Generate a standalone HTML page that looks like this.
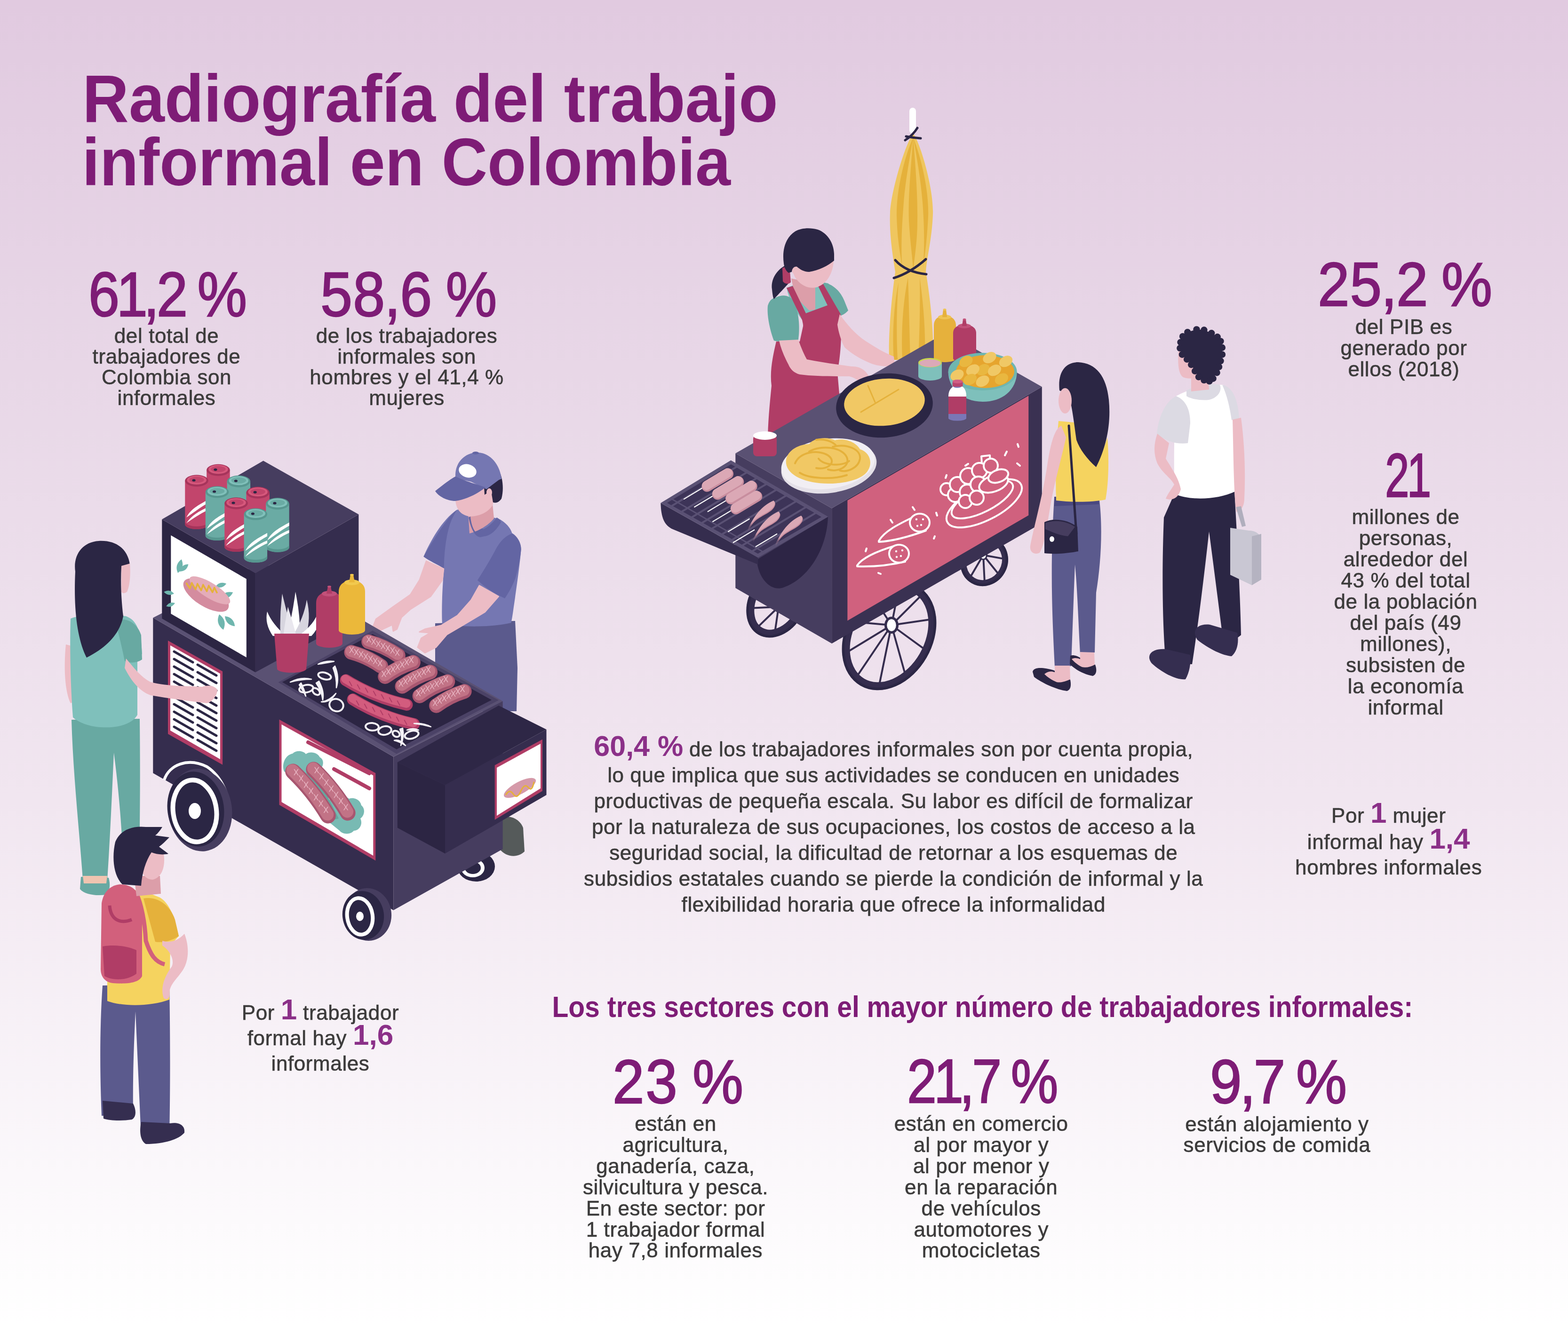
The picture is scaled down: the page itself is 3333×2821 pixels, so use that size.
<!DOCTYPE html>
<html lang="es"><head><meta charset="utf-8"><title>Radiografía del trabajo informal en Colombia</title>
<style>
html,body{margin:0;padding:0;}
body{width:3333px;height:2821px;position:relative;overflow:hidden;
background:linear-gradient(180deg,#e1cae0 0px,#e9d9e8 900px,#f1e6f0 1700px,#fbf8fb 2500px,#ffffff 2821px);
font-family:"Liberation Sans",Arial,sans-serif;}
.t{position:absolute;white-space:pre;}
.n{-webkit-text-stroke:2.4px currentColor;}
.b{letter-spacing:0.6px;-webkit-text-stroke:0.6px currentColor;}
svg.ill{position:absolute;left:0;top:0;}
</style></head><body>
<svg class="ill" width="3333" height="2821" viewBox="0 0 3333 2821" xmlns="http://www.w3.org/2000/svg"><rect x="1933" y="229" width="14" height="55" rx="7" fill="#ffffff"/><path d="M1941,284 C1955,300 1985,400 1983,455 C1981,510 1970,545 1968,578 C1975,620 1986,700 1983,765 L1890,765 C1888,700 1897,620 1903,578 C1898,545 1890,500 1892,452 C1895,400 1927,300 1941,284 Z" fill="#efc65f" /><path d="M1941,292 C1936,360 1930,420 1932,470 C1935,520 1940,550 1941,575 C1945,540 1950,510 1950,470 C1951,420 1946,350 1941,292 Z" fill="#e5b13b" /><path d="M1941,292 C1920,340 1905,410 1906,460 C1908,520 1915,545 1918,572 C1914,520 1918,470 1921,430 C1925,380 1935,330 1941,292 Z" fill="#e5b13b" /><path d="M1941,292 C1960,340 1975,410 1973,460 C1970,520 1965,545 1962,572 C1966,520 1964,470 1961,430 C1957,380 1948,330 1941,292 Z" fill="#e5b13b" /><path d="M1930,590 C1920,640 1915,700 1918,765 L1935,765 C1933,700 1932,640 1930,590 Z" fill="#e5b13b" /><path d="M1955,590 C1962,640 1968,700 1966,765 L1952,765 C1955,700 1956,640 1955,590 Z" fill="#e5b13b" /><path d="M1910,600 C1900,650 1896,710 1900,765 L1908,765 C1905,710 1906,650 1910,600 Z" fill="#e5b13b" /><path d="M1926,290 Q1942,293 1957,294" fill="none" stroke="#2b2644" stroke-width="5" stroke-linecap="round"/><path d="M1924,298 Q1940,288 1950,272" fill="none" stroke="#2b2644" stroke-width="5" stroke-linecap="round"/><path d="M1903,553 Q1925,578 1969,583" fill="none" stroke="#2b2644" stroke-width="5" stroke-linecap="round"/><path d="M1900,591 Q1935,580 1968,551" fill="none" stroke="#2b2644" stroke-width="5" stroke-linecap="round"/><path d="M1640,820 C1636,790 1642,760 1650,726 L1700,726 L1713,666 L1759,649 L1787,668 C1790,720 1786,760 1780,790 C1784,840 1790,900 1795,940 L1632,940 C1632,900 1636,860 1640,820 Z" fill="#b03d66" /><path d="M1672,612 C1690,603 1720,600 1745,600 L1760,602 C1775,615 1785,640 1790,668 L1705,680 C1690,660 1678,640 1672,612 Z" fill="#7fc0bb" /><path d="M1650,632 C1665,625 1678,628 1688,640 C1700,670 1700,700 1697,722 C1680,728 1660,728 1645,724 C1636,700 1630,670 1632,650 C1635,640 1640,634 1650,632 Z" fill="#68a9a2" /><path d="M1743,600 C1765,600 1785,615 1795,640 L1803,660 C1796,668 1788,672 1780,672 C1772,650 1758,620 1743,600 Z" fill="#68a9a2" /><polygon points="1682.0,592.0 1722.0,600.0 1733.0,612.0 1733.0,658.0 1720.0,660.0 1690.0,630.0" fill="#dc9ea9" /><path d="M1672,612 L1685,608 L1713,666 L1759,649 L1738,606 L1750,604 L1787,668 C1790,700 1787,740 1781,775 L1712,770 C1710,730 1710,700 1705,680 Z" fill="#b03d66" /><path d="M1785,668 C1800,690 1820,712 1840,725 C1860,738 1880,750 1900,758 L1902,776 C1890,780 1870,780 1850,772 C1830,764 1810,752 1795,738 C1788,725 1782,705 1780,690 Z" fill="#ecbcc5" /><path d="M1656,724 L1697,722 C1703,740 1710,755 1715,764 C1745,770 1780,775 1810,779 C1830,778 1845,790 1850,808 C1848,818 1840,822 1832,818 C1825,808 1815,802 1805,800 C1770,800 1730,800 1700,796 C1688,793 1680,785 1676,775 C1668,760 1660,742 1656,724 Z" fill="#ecbcc5" /><path d="M1668,565 C1650,575 1638,595 1641,615 C1642,625 1643,632 1645,636 C1655,625 1668,612 1680,598 Z" fill="#2b2644" /><path d="M1663,570 C1668,566 1676,568 1679,575 L1681,600 C1676,605 1668,604 1664,598 Z" fill="#b03d66" /><path d="M1684,566 C1690,560 1700,560 1710,565 L1772,555 C1770,585 1755,605 1735,611 C1720,614 1705,608 1695,596 C1688,588 1684,578 1684,566 Z" fill="#ecbcc5" /><ellipse cx="1689" cy="574" rx="6" ry="8" fill="#ecbcc5" /><path d="M1666,560 C1662,530 1670,505 1690,492 C1705,484 1722,484 1738,488 C1758,495 1772,515 1773,540 L1773,554 C1760,565 1740,575 1720,578 C1708,578 1700,572 1694,567 C1688,566 1684,570 1683,578 L1676,580 C1670,575 1667,568 1666,560 Z" fill="#2b2644" /><line x1="1655" y1="1290" x2="1695.8980935600252" y2="1224.4292126705154" stroke="#352d4e" stroke-width="4" stroke-linecap="round" /><line x1="1655" y1="1290" x2="1708.927000735486" y2="1267.2492342887836" stroke="#352d4e" stroke-width="4" stroke-linecap="round" /><line x1="1655" y1="1290" x2="1688.6088429453223" y2="1317.5384815300404" stroke="#352d4e" stroke-width="4" stroke-linecap="round" /><line x1="1655" y1="1290" x2="1646.8457214605753" y2="1345.8381954018917" stroke="#352d4e" stroke-width="4" stroke-linecap="round" /><line x1="1655" y1="1290" x2="1608.1019064399748" y2="1335.5707873294846" stroke="#352d4e" stroke-width="4" stroke-linecap="round" /><line x1="1655" y1="1290" x2="1595.072999264514" y2="1292.7507657112164" stroke="#352d4e" stroke-width="4" stroke-linecap="round" /><line x1="1655" y1="1290" x2="1615.3911570546777" y2="1242.4615184699596" stroke="#352d4e" stroke-width="4" stroke-linecap="round" /><line x1="1655" y1="1290" x2="1657.1542785394247" y2="1214.1618045981083" stroke="#352d4e" stroke-width="4" stroke-linecap="round" /><ellipse cx="1652" cy="1280" rx="71.5" ry="51.5" fill="none" transform="rotate(-60 1652 1280)" stroke="#352d4e" stroke-width="17"/><ellipse cx="1652" cy="1280" rx="77.0" ry="57.0" fill="none" transform="rotate(-60 1652 1280)" stroke="#2b2644" stroke-width="5"/><ellipse cx="1655" cy="1290" rx="10" ry="12.0" fill="#352d4e" /><ellipse cx="1655" cy="1290" rx="6.5" ry="8.5" fill="#ffffff" /><line x1="2090" y1="1180" x2="2122.760873126559" y2="1157.0048366387894" stroke="#352d4e" stroke-width="4" stroke-linecap="round" /><line x1="2090" y1="1180" x2="2136.522022193934" y2="1188.399412921956" stroke="#352d4e" stroke-width="4" stroke-linecap="round" /><line x1="2090" y1="1180" x2="2124.202774484378" y2="1222.4889507205626" stroke="#352d4e" stroke-width="4" stroke-linecap="round" /><line x1="2090" y1="1180" x2="2093.0195782279156" y2="1239.304261127215" stroke="#352d4e" stroke-width="4" stroke-linecap="round" /><line x1="2090" y1="1180" x2="2061.239126873441" y2="1228.9951633612106" stroke="#352d4e" stroke-width="4" stroke-linecap="round" /><line x1="2090" y1="1180" x2="2047.477977806066" y2="1197.600587078044" stroke="#352d4e" stroke-width="4" stroke-linecap="round" /><line x1="2090" y1="1180" x2="2059.797225515622" y2="1163.5110492794374" stroke="#352d4e" stroke-width="4" stroke-linecap="round" /><line x1="2090" y1="1180" x2="2090.9804217720844" y2="1146.695738872785" stroke="#352d4e" stroke-width="4" stroke-linecap="round" /><ellipse cx="2092" cy="1193" rx="47.5" ry="43.5" fill="none" transform="rotate(-60 2092 1193)" stroke="#352d4e" stroke-width="13"/><ellipse cx="2092" cy="1193" rx="51.0" ry="47.0" fill="none" transform="rotate(-60 2092 1193)" stroke="#2b2644" stroke-width="5"/><ellipse cx="2090" cy="1180" rx="9" ry="10.799999999999999" fill="#352d4e" /><ellipse cx="2090" cy="1180" rx="5.8500000000000005" ry="7.6499999999999995" fill="#ffffff" /><line x1="1895" y1="1329" x2="1959.9851776921755" y2="1263.9598947031914" stroke="#352d4e" stroke-width="4" stroke-linecap="round" /><line x1="1895" y1="1329" x2="1981.6495467153597" y2="1316.3031847125606" stroke="#352d4e" stroke-width="4" stroke-linecap="round" /><line x1="1895" y1="1329" x2="1968.3069039467978" y2="1382.2814448716047" stroke="#352d4e" stroke-width="4" stroke-linecap="round" /><line x1="1895" y1="1329" x2="1925.0536854243326" y2="1436.693222318152" stroke="#352d4e" stroke-width="4" stroke-linecap="round" /><line x1="1895" y1="1329" x2="1868.4111505007188" y2="1458.7550674559166" stroke="#352d4e" stroke-width="4" stroke-linecap="round" /><line x1="1895" y1="1329" x2="1820.0148223078245" y2="1440.0401052968086" stroke="#352d4e" stroke-width="4" stroke-linecap="round" /><line x1="1895" y1="1329" x2="1798.3504532846403" y2="1387.6968152874394" stroke="#352d4e" stroke-width="4" stroke-linecap="round" /><line x1="1895" y1="1329" x2="1811.6930960532022" y2="1321.7185551283953" stroke="#352d4e" stroke-width="4" stroke-linecap="round" /><line x1="1895" y1="1329" x2="1854.9463145756674" y2="1267.306777681848" stroke="#352d4e" stroke-width="4" stroke-linecap="round" /><line x1="1895" y1="1329" x2="1911.5888494992812" y2="1245.2449325440834" stroke="#352d4e" stroke-width="4" stroke-linecap="round" /><ellipse cx="1890" cy="1352" rx="113.5" ry="83.5" fill="none" transform="rotate(-60 1890 1352)" stroke="#352d4e" stroke-width="17"/><ellipse cx="1890" cy="1352" rx="119.0" ry="89.0" fill="none" transform="rotate(-60 1890 1352)" stroke="#2b2644" stroke-width="5"/><ellipse cx="1895" cy="1329" rx="15" ry="18.0" fill="#352d4e" /><ellipse cx="1895" cy="1329" rx="9.75" ry="12.75" fill="#ffffff" /><polygon points="1563.3,963.8 1768.1,1080.5 1768.1,1368.0 1563.3,1250.0" fill="#463d5f" /><polygon points="1768.1,1080.5 2214.8,822.2 2214.8,1112.0 1768.1,1368.0" fill="#3a3152" /><polygon points="1801.4,1063.8 2186.3,841.2 2186.3,1095.5 1801.4,1319.5" fill="#d0617e" /><polygon points="1563.3,963.8 2011.0,706.7 2214.8,822.2 1768.1,1080.5" fill="#5a5173" /><path d="M1608.6,1190 C1612,1232 1640,1258 1665,1249 C1720,1230 1758,1165 1760,1098 Z" fill="#2d2545" /><path d="M1404.4,1069.2 L1611.3,1185.5 L1611.3,1200 L1430,1125 C1412,1117 1405,1100 1404.4,1069.2 Z" fill="#352d4e" /><polygon points="1404.4,1069.2 1553.6,978.6 1760.4,1098.5 1611.3,1185.5" fill="#5a5174" /><polygon points="1418.0,1069.0 1554.0,987.0 1746.0,1099.0 1611.0,1177.0" fill="#3d3458" /><line x1="1428.7222222222222" y1="1075.0" x2="1564.7222222222222" y2="993.0" stroke="#5a5174" stroke-width="4" stroke-linecap="round" stroke-linecap="butt"/><line x1="1450.1666666666667" y1="1087.0" x2="1586.1666666666667" y2="1005.0" stroke="#5a5174" stroke-width="4" stroke-linecap="round" stroke-linecap="butt"/><line x1="1471.611111111111" y1="1099.0" x2="1607.611111111111" y2="1017.0" stroke="#5a5174" stroke-width="4" stroke-linecap="round" stroke-linecap="butt"/><line x1="1493.0555555555557" y1="1111.0" x2="1629.0555555555557" y2="1029.0" stroke="#5a5174" stroke-width="4" stroke-linecap="round" stroke-linecap="butt"/><line x1="1514.5" y1="1123.0" x2="1650.5" y2="1041.0" stroke="#5a5174" stroke-width="4" stroke-linecap="round" stroke-linecap="butt"/><line x1="1535.9444444444443" y1="1135.0" x2="1671.9444444444443" y2="1053.0" stroke="#5a5174" stroke-width="4" stroke-linecap="round" stroke-linecap="butt"/><line x1="1557.388888888889" y1="1147.0" x2="1693.388888888889" y2="1065.0" stroke="#5a5174" stroke-width="4" stroke-linecap="round" stroke-linecap="butt"/><line x1="1578.8333333333333" y1="1159.0" x2="1714.8333333333333" y2="1077.0" stroke="#5a5174" stroke-width="4" stroke-linecap="round" stroke-linecap="butt"/><line x1="1600.2777777777778" y1="1171.0" x2="1736.2777777777778" y2="1089.0" stroke="#5a5174" stroke-width="4" stroke-linecap="round" stroke-linecap="butt"/><line x1="1430" y1="1062" x2="1625" y2="1175" stroke="#5a5174" stroke-width="3" stroke-linecap="round" stroke-linecap="butt"/><line x1="1498.5849809789365" y1="1034.0511422473016" x2="1454.0122813424268" y2="1060.8331221426245" stroke="#ffffff" stroke-width="2.2" stroke-linecap="round" /><path d="M1502.0,1032.0 L1546.6,1005.2" stroke="#c98d9e" stroke-width="23" stroke-linecap="round" transform="translate(1,2)"/><path d="M1502.0,1032.0 L1546.6,1005.2" stroke="#dba8b5" stroke-width="20" stroke-linecap="round"/><line x1="1520.7849809789366" y1="1050.9511422473017" x2="1476.2122813424269" y2="1077.7331221426243" stroke="#ffffff" stroke-width="2.2" stroke-linecap="round" /><path d="M1524.2,1048.9 L1568.8,1022.1" stroke="#c98d9e" stroke-width="23" stroke-linecap="round" transform="translate(1,2)"/><path d="M1524.2,1048.9 L1568.8,1022.1" stroke="#dba8b5" stroke-width="20" stroke-linecap="round"/><line x1="1549.1849809789367" y1="1060.6511422473018" x2="1504.612281342427" y2="1087.4331221426246" stroke="#ffffff" stroke-width="2.2" stroke-linecap="round" /><path d="M1552.6,1058.6 L1597.2,1031.8" stroke="#c98d9e" stroke-width="23" stroke-linecap="round" transform="translate(1,2)"/><path d="M1552.6,1058.6 L1597.2,1031.8" stroke="#dba8b5" stroke-width="20" stroke-linecap="round"/><line x1="1559.7849809789366" y1="1081.9511422473017" x2="1515.2122813424269" y2="1108.7331221426243" stroke="#ffffff" stroke-width="2.2" stroke-linecap="round" /><path d="M1563.2,1079.9 L1607.8,1053.1" stroke="#c98d9e" stroke-width="23" stroke-linecap="round" transform="translate(1,2)"/><path d="M1563.2,1079.9 L1607.8,1053.1" stroke="#dba8b5" stroke-width="20" stroke-linecap="round"/><line x1="1592.6849809789367" y1="1103.2511422473017" x2="1548.112281342427" y2="1130.0331221426245" stroke="#ffffff" stroke-width="2.2" stroke-linecap="round" /><path d="M1589.3,1127.3 C1601.3,1098.1 1618.4,1075.8 1644.1,1064.3 C1651.0,1068.2 1644.1,1080.3 1635.5,1085.5 C1618.4,1097.8 1601.3,1099.8 1589.3,1127.3 Z" fill="#c98d9e" transform="translate(1,2)"/><path d="M1589.3,1127.3 C1601.3,1098.1 1618.4,1075.8 1644.1,1064.3 C1651.0,1068.2 1644.1,1080.3 1635.5,1085.5 C1618.4,1097.8 1601.3,1099.8 1589.3,1127.3 Z" fill="#dba8b5" /><line x1="1603.2849809789366" y1="1126.4511422473017" x2="1558.7122813424269" y2="1153.2331221426243" stroke="#ffffff" stroke-width="2.2" stroke-linecap="round" /><path d="M1599.9,1150.5 C1611.9,1121.3 1629.0,1099.0 1654.7,1087.5 C1661.6,1091.4 1654.7,1103.5 1646.1,1108.7 C1629.0,1121.0 1611.9,1123.0 1599.9,1150.5 Z" fill="#c98d9e" transform="translate(1,2)"/><path d="M1599.9,1150.5 C1611.9,1121.3 1629.0,1099.0 1654.7,1087.5 C1661.6,1091.4 1654.7,1103.5 1646.1,1108.7 C1629.0,1121.0 1611.9,1123.0 1599.9,1150.5 Z" fill="#dba8b5" /><line x1="1651.2849809789366" y1="1135.2511422473017" x2="1606.7122813424269" y2="1162.0331221426245" stroke="#ffffff" stroke-width="2.2" stroke-linecap="round" /><path d="M1647.9,1159.3 C1659.9,1130.1 1677.0,1107.8 1702.7,1096.3 C1709.6,1100.2 1702.7,1112.3 1694.1,1117.5 C1677.0,1129.8 1659.9,1131.8 1647.9,1159.3 Z" fill="#c98d9e" transform="translate(1,2)"/><path d="M1647.9,1159.3 C1659.9,1130.1 1677.0,1107.8 1702.7,1096.3 C1709.6,1100.2 1702.7,1112.3 1694.1,1117.5 C1677.0,1129.8 1659.9,1131.8 1647.9,1159.3 Z" fill="#dba8b5" /><ellipse cx="1880" cy="862" rx="103" ry="68" fill="#2b2644" transform="rotate(-5 1880 862)" /><ellipse cx="1880" cy="855" rx="86" ry="50" fill="#f1c864" transform="rotate(-5 1880 855)" /><line x1="1830" y1="876" x2="1910" y2="828" stroke="#e5b13b" stroke-width="3" stroke-linecap="round" /><line x1="1860" y1="855" x2="1845" y2="820" stroke="#e5b13b" stroke-width="3" stroke-linecap="round" /><ellipse cx="1762" cy="992" rx="102" ry="56" fill="#e4e0e8" transform="rotate(-8 1762 992)" /><ellipse cx="1760" cy="986" rx="100" ry="53" fill="#f1eef3" transform="rotate(-8 1760 986)" /><path d="M1672,990 C1665,965 1690,945 1720,944 C1730,930 1760,928 1775,936 C1795,930 1820,940 1828,955 C1850,962 1855,985 1845,1000 C1835,1018 1800,1028 1760,1028 C1720,1028 1680,1015 1672,990 Z" fill="#f1c864" /><path d="M1690,985 C1700,960 1740,955 1760,968 C1780,982 1760,1000 1735,995" fill="none" stroke="#e5b13b" stroke-width="4" stroke-linecap="round"/><path d="M1720,960 C1745,945 1790,950 1800,972 C1808,992 1780,1005 1760,998" fill="none" stroke="#e5b13b" stroke-width="4" stroke-linecap="round"/><path d="M1770,950 C1800,942 1830,955 1828,975 C1825,995 1800,1005 1785,1000" fill="none" stroke="#e5b13b" stroke-width="4" stroke-linecap="round"/><path d="M1700,1005 C1720,1018 1770,1020 1800,1010" fill="none" stroke="#e5b13b" stroke-width="4" stroke-linecap="round"/><path d="M1740,975 C1750,990 1790,992 1805,980" fill="none" stroke="#e5b13b" stroke-width="4" stroke-linecap="round"/><path d="M1735,935 C1750,932 1770,938 1778,948" fill="none" stroke="#e5b13b" stroke-width="4" stroke-linecap="round"/><rect x="1601" y="925" width="50" height="45" rx="8" fill="#b03d66"/><ellipse cx="1626" cy="926" rx="25" ry="9" fill="#ffffff" /><path d="M1985,692 C1985,676 1998,671 2008,671 C2018,671 2032,676 2032,692 L2032,762 A23.5,8 0 0 1 1985,762 Z" fill="#e6b13c"/><ellipse cx="2008" cy="674" rx="14" ry="5" fill="#efc455" /><path d="M2003,674 L2005,658 L2011,658 L2013,674 Z" fill="#e6b13c"/><ellipse cx="2008" cy="658" rx="3.5" ry="2" fill="#efc455" /><path d="M2026,708 C2026,694 2040,690 2050,690 C2060,690 2075,694 2075,708 L2075,762 A24.5,8 0 0 1 2026,762 Z" fill="#b03d66"/><ellipse cx="2050" cy="693" rx="14" ry="5" fill="#c2517a" /><path d="M2045,693 L2047,679 L2053,679 L2055,693 Z" fill="#b03d66"/><ellipse cx="2050" cy="679" rx="3.5" ry="2" fill="#c2517a" /><path d="M1952,771 L1952,800 A25,9 0 0 0 2002,800 L2002,771 Z" fill="#7fc0bb"/><ellipse cx="1977" cy="771" rx="25" ry="10" fill="#c8d84c" /><ellipse cx="1977" cy="772" rx="22.5" ry="8.2" fill="#dba9b8" /><path d="M2015.6,790 C2016,830 2050,854 2089,854 C2130,854 2161,830 2161.7,790 Z" fill="#7ec0bb"/><ellipse cx="2088.6" cy="790" rx="73" ry="40" fill="#6fb6b0" /><ellipse cx="2094" cy="790" rx="62" ry="35" fill="#e6a52e" /><ellipse cx="2053.4" cy="768.2" rx="15" ry="11" fill="#e9b740" transform="rotate(-30 2053.4 768.2)" /><ellipse cx="2103.5" cy="760.2" rx="15" ry="11" fill="#f0c866" transform="rotate(-30 2103.5 760.2)" /><ellipse cx="2138" cy="768.2" rx="15" ry="11" fill="#f0c866" transform="rotate(-30 2138 768.2)" /><ellipse cx="2089.7" cy="786" rx="15" ry="11" fill="#e9b740" transform="rotate(-30 2089.7 786)" /><ellipse cx="2067.8" cy="786.6" rx="15" ry="11" fill="#f0c866" transform="rotate(-30 2067.8 786.6)" /><ellipse cx="2114" cy="787.2" rx="15" ry="11" fill="#f0c866" transform="rotate(-30 2114 787.2)" /><ellipse cx="2034.4" cy="797.6" rx="15" ry="11" fill="#f0c866" transform="rotate(-30 2034.4 797.6)" /><ellipse cx="2062" cy="806.8" rx="15" ry="11" fill="#e9b740" transform="rotate(-30 2062 806.8)" /><ellipse cx="2088.6" cy="810.3" rx="15" ry="11" fill="#f0c866" transform="rotate(-30 2088.6 810.3)" /><ellipse cx="2128.9" cy="805.6" rx="15" ry="11" fill="#e9b740" transform="rotate(-30 2128.9 805.6)" /><path d="M2016,842 C2016,828 2024,822 2030,820 L2042,820 C2048,822 2054,828 2054,842 L2054,888 A19,6 0 0 1 2016,888 Z" fill="#ffffff"/><rect x="2016" y="843" width="38" height="37" fill="#b03d66"/><path d="M2016,880 L2054,880 L2054,888 A19,6 0 0 1 2016,888 Z" fill="#7a77b6"/><ellipse cx="2035" cy="889" rx="19" ry="5.5" fill="#7a77b6" /><ellipse cx="2035" cy="821" rx="9" ry="3.5" fill="#7a77b6" /><rect x="2024.6" y="811" width="22" height="11" rx="3" fill="#b8466f"/><ellipse cx="2035.6" cy="811" rx="11" ry="4" fill="#cf5f85" /><ellipse cx="2092" cy="1070" rx="88" ry="36" transform="rotate(-27 2092 1070)" fill="none" stroke="#ffffff" stroke-width="4" stroke-linecap="round" stroke-linejoin="round"/><ellipse cx="2088" cy="1062" rx="72" ry="26" transform="rotate(-27 2088 1062)" fill="none" stroke="#ffffff" stroke-width="4" stroke-linecap="round" stroke-linejoin="round"/><path d="M2088,1002 L2086,970 L2104,968 L2106,998" fill="#d0617e" stroke="#ffffff" stroke-width="4" stroke-linecap="round" stroke-linejoin="round"/><circle cx="2012" cy="1040" r="13" fill="#d0617e" stroke="#ffffff" stroke-width="4" stroke-linecap="round" stroke-linejoin="round"/><circle cx="2030" cy="1052" r="15" fill="#d0617e" stroke="#ffffff" stroke-width="4" stroke-linecap="round" stroke-linejoin="round"/><circle cx="2035" cy="1030" r="16" fill="#d0617e" stroke="#ffffff" stroke-width="4" stroke-linecap="round" stroke-linejoin="round"/><circle cx="2058" cy="1012" r="17" fill="#d0617e" stroke="#ffffff" stroke-width="4" stroke-linecap="round" stroke-linejoin="round"/><circle cx="2082" cy="1000" r="16" fill="#d0617e" stroke="#ffffff" stroke-width="4" stroke-linecap="round" stroke-linejoin="round"/><circle cx="2106" cy="990" r="15" fill="#d0617e" stroke="#ffffff" stroke-width="4" stroke-linecap="round" stroke-linejoin="round"/><circle cx="2056" cy="1046" r="16" fill="#d0617e" stroke="#ffffff" stroke-width="4" stroke-linecap="round" stroke-linejoin="round"/><circle cx="2080" cy="1030" r="17" fill="#d0617e" stroke="#ffffff" stroke-width="4" stroke-linecap="round" stroke-linejoin="round"/><circle cx="2052" cy="1066" r="14" fill="#d0617e" stroke="#ffffff" stroke-width="4" stroke-linecap="round" stroke-linejoin="round"/><circle cx="2076" cy="1058" r="15" fill="#d0617e" stroke="#ffffff" stroke-width="4" stroke-linecap="round" stroke-linejoin="round"/><ellipse cx="2112" cy="1028" rx="32" ry="17" transform="rotate(-20 2112 1028)" fill="#d0617e" stroke="#ffffff" stroke-width="4" stroke-linecap="round" stroke-linejoin="round"/><ellipse cx="2122" cy="1012" rx="22" ry="13" transform="rotate(-20 2122 1012)" fill="#d0617e" stroke="#ffffff" stroke-width="4" stroke-linecap="round" stroke-linejoin="round"/><path d="M1868,1150 C1880,1128 1915,1112 1948,1096 L1968,1128 C1935,1140 1900,1150 1868,1152 Z" fill="#d0617e" stroke="#ffffff" stroke-width="4" stroke-linecap="round" stroke-linejoin="round"/><ellipse cx="1955" cy="1111" rx="21" ry="19" fill="#d0617e" stroke="#ffffff" stroke-width="4" stroke-linecap="round" stroke-linejoin="round"/><path d="M1822,1202 C1834,1184 1870,1170 1903,1160 L1924,1194 C1890,1202 1852,1205 1822,1204 Z" fill="#d0617e" stroke="#ffffff" stroke-width="4" stroke-linecap="round" stroke-linejoin="round"/><ellipse cx="1911" cy="1177" rx="21" ry="19" fill="#d0617e" stroke="#ffffff" stroke-width="4" stroke-linecap="round" stroke-linejoin="round"/><circle cx="1948" cy="1104" r="2.2" fill="#ffffff"/><circle cx="1958" cy="1116" r="2.2" fill="#ffffff"/><circle cx="1962" cy="1104" r="2.2" fill="#ffffff"/><circle cx="1950" cy="1118" r="2.2" fill="#ffffff"/><circle cx="1905" cy="1172" r="2.2" fill="#ffffff"/><circle cx="1915" cy="1182" r="2.2" fill="#ffffff"/><circle cx="1918" cy="1170" r="2.2" fill="#ffffff"/><circle cx="1906" cy="1184" r="2.2" fill="#ffffff"/><line x1="2163" y1="944" x2="2165" y2="950" stroke="#ffffff" stroke-width="4" stroke-linecap="round" /><line x1="2140" y1="960" x2="2136" y2="968" stroke="#ffffff" stroke-width="4" stroke-linecap="round" /><line x1="2162" y1="985" x2="2168" y2="990" stroke="#ffffff" stroke-width="4" stroke-linecap="round" /><line x1="2058" y1="986" x2="2052" y2="990" stroke="#ffffff" stroke-width="4" stroke-linecap="round" /><line x1="2012" y1="1010" x2="2010" y2="1016" stroke="#ffffff" stroke-width="4" stroke-linecap="round" /><line x1="1990" y1="1090" x2="1992" y2="1096" stroke="#ffffff" stroke-width="4" stroke-linecap="round" /><line x1="1940" y1="1078" x2="1944" y2="1084" stroke="#ffffff" stroke-width="4" stroke-linecap="round" /><line x1="1893" y1="1105" x2="1897" y2="1111" stroke="#ffffff" stroke-width="4" stroke-linecap="round" /><line x1="1840" y1="1172" x2="1842" y2="1166" stroke="#ffffff" stroke-width="4" stroke-linecap="round" /><line x1="1867" y1="1218" x2="1872" y2="1220" stroke="#ffffff" stroke-width="4" stroke-linecap="round" /><line x1="1985" y1="1145" x2="1987" y2="1140" stroke="#ffffff" stroke-width="4" stroke-linecap="round" /><path d="M2241,1058 L2336,1056 C2345,1120 2340,1200 2330,1260 L2327,1387 L2296,1390 C2292,1320 2290,1250 2285,1200 C2283,1250 2280,1330 2277,1416 L2242,1418 C2236,1300 2232,1200 2241,1058 Z" fill="#5b5a8d" /><polygon points="2241.0,1056.0 2336.0,1054.0 2336.0,1072.0 2241.0,1076.0" fill="#4a4880" /><path d="M2275,1394 C2282,1391 2292,1395 2302,1402 L2328,1413 C2332,1424 2331,1434 2323,1437 C2305,1434 2285,1423 2274,1412 Z" fill="#2b2644" /><path d="M2296,1386 L2326,1387 L2327,1413 C2318,1418 2308,1420 2300,1418 C2290,1413 2283,1407 2278,1401 C2284,1398 2290,1399 2296,1401 Z" fill="#ecbcc5" /><path d="M2195,1428 C2197,1418 2216,1418 2240,1425 L2275,1445 C2277,1455 2277,1466 2268,1469 C2245,1466 2215,1452 2198,1439 Z" fill="#2b2644" /><path d="M2242,1415 L2274,1415 L2275,1444 C2266,1448 2256,1452 2246,1450 C2236,1446 2226,1439 2220,1433 C2228,1426 2236,1427 2242,1429 Z" fill="#ecbcc5" /><path d="M2250,895 L2283,898 C2290,930 2300,960 2330,993 C2345,960 2352,935 2354,930 C2358,980 2356,1030 2350,1062 C2320,1068 2280,1068 2245,1064 C2243,1010 2245,950 2250,895 Z" fill="#f5d35f" /><path d="M2256,905 C2240,912 2232,950 2226,990 C2215,1060 2200,1110 2190,1160 C2188,1175 2200,1180 2210,1175 C2220,1160 2225,1120 2232,1080 C2240,1030 2255,980 2266,930 Z" fill="#ecbcc5" /><path d="M2252,830 C2248,790 2265,770 2292,770 C2330,772 2352,800 2357,850 C2362,900 2352,950 2330,993 C2310,975 2295,955 2288,935 C2283,900 2280,870 2272,840 Z" fill="#2b2644" /><ellipse cx="2264" cy="852" rx="14" ry="27" fill="#ecbcc5" /><line x1="2272" y1="905" x2="2288" y2="1135" stroke="#2b2644" stroke-width="5" stroke-linecap="round" /><path d="M2220,1110 C2240,1100 2270,1105 2290,1120 L2292,1172 C2260,1178 2235,1178 2220,1176 Z" fill="#2b2644" /><path d="M2222,1112 C2242,1104 2268,1108 2285,1120 L2270,1140 C2250,1138 2235,1130 2222,1125 Z" fill="#463d5f" /><ellipse cx="2236" cy="1146" rx="5" ry="6" fill="#ffffff" /><path d="M2497,1048 C2530,1062 2590,1060 2624,1043 C2630,1150 2636,1260 2638,1350 L2602,1378 C2592,1300 2582,1220 2570,1130 C2560,1220 2548,1320 2534,1412 L2478,1410 C2470,1320 2470,1200 2474,1100 Z" fill="#2b2644" /><path d="M2478,1380 L2530,1392 C2532,1410 2528,1430 2520,1444 C2500,1446 2470,1430 2448,1410 C2436,1395 2445,1378 2478,1380 Z" fill="#352e50" /><path d="M2572,1328 L2630,1345 C2634,1365 2630,1385 2618,1395 C2600,1394 2570,1380 2545,1360 C2532,1340 2545,1325 2572,1328 Z" fill="#352e50" /><path d="M2500,842 C2530,825 2570,818 2600,818 C2615,830 2622,850 2622,870 C2622,940 2624,1000 2625,1045 C2590,1062 2530,1065 2497,1050 C2495,1000 2495,930 2500,842 Z" fill="#ffffff" /><path d="M2522,830 C2545,818 2575,814 2593,818 C2598,830 2590,845 2570,850 C2550,852 2532,848 2522,842 Z" fill="#dcdae3" /><path d="M2500,842 C2520,850 2530,870 2530,900 L2525,942 C2505,945 2480,940 2459,922 C2462,890 2475,855 2500,842 Z" fill="#dcdae3" /><path d="M2598,818 C2620,822 2632,850 2634,890 L2618,893 C2614,865 2608,840 2598,818 Z" fill="#dcdae3" /><path d="M2620,892 L2638,888 C2645,940 2648,1000 2645,1060 C2645,1075 2638,1088 2628,1088 C2622,1050 2622,960 2620,892 Z" fill="#ecbcc5" /><path d="M2460,922 C2452,945 2452,965 2460,985 C2470,1005 2488,1015 2496,1030 C2490,1040 2482,1050 2478,1060 C2490,1065 2505,1060 2510,1040 C2505,1015 2490,995 2478,975 L2485,942 Z" fill="#ecbcc5" /><polygon points="2532.0,795.0 2568.0,800.0 2570.0,828.0 2532.0,832.0" fill="#ecbcc5" /><path d="M2505,745 C2503,775 2505,795 2515,802 C2525,806 2535,805 2545,800 L2540,750 Z" fill="#ecbcc5" /><polygon points="2524.2,706.1 2543.5,700.4 2559.4,701.5 2575.2,708.3 2587.7,716.3 2594.5,725.4 2597.9,739.0 2597.9,753.7 2594.5,767.3 2591.1,779.8 2586.6,792.2 2578.6,804.7 2570.7,810.4 2559.4,808.1 2548.0,801.4 2540.1,788.8 2532.2,775.2 2523.1,763.9 2512.9,753.7 2508.3,740.1 2509.5,727.6 2514.0,715.1" fill="#2b2644" /><circle cx="2524.2" cy="706.1" r="7.2" fill="#2b2644"/><circle cx="2543.5" cy="700.4" r="7.2" fill="#2b2644"/><circle cx="2559.4" cy="701.5" r="7.2" fill="#2b2644"/><circle cx="2575.2" cy="708.3" r="7.2" fill="#2b2644"/><circle cx="2587.7" cy="716.3" r="7.2" fill="#2b2644"/><circle cx="2594.5" cy="725.4" r="7.2" fill="#2b2644"/><circle cx="2597.9" cy="739" r="7.2" fill="#2b2644"/><circle cx="2597.9" cy="753.7" r="7.2" fill="#2b2644"/><circle cx="2594.5" cy="767.3" r="7.2" fill="#2b2644"/><circle cx="2591.1" cy="779.8" r="7.2" fill="#2b2644"/><circle cx="2586.6" cy="792.2" r="7.2" fill="#2b2644"/><circle cx="2578.6" cy="804.7" r="7.2" fill="#2b2644"/><circle cx="2570.7" cy="810.4" r="7.2" fill="#2b2644"/><circle cx="2559.4" cy="808.1" r="7.2" fill="#2b2644"/><circle cx="2548" cy="801.4" r="7.2" fill="#2b2644"/><circle cx="2540.1" cy="788.8" r="7.2" fill="#2b2644"/><circle cx="2532.2" cy="775.2" r="7.2" fill="#2b2644"/><circle cx="2523.1" cy="763.9" r="7.2" fill="#2b2644"/><circle cx="2512.9" cy="753.7" r="7.2" fill="#2b2644"/><circle cx="2508.3" cy="740.1" r="7.2" fill="#2b2644"/><circle cx="2509.5" cy="727.6" r="7.2" fill="#2b2644"/><circle cx="2514" cy="715.1" r="7.2" fill="#2b2644"/><path d="M2627,1078 L2638,1076 L2648,1118 L2640,1120 Z" fill="#b0aebd" /><path d="M2615,1122 L2655,1128 C2668,1128 2681,1135 2681,1150 L2681,1232 L2661,1244 L2615,1222 Z" fill="#c9c7d3" /><polygon points="2661.0,1140.0 2681.0,1135.0 2681.0,1232.0 2661.0,1244.0" fill="#b5b3c1" /><polygon points="925.0,1325.0 1095.0,1320.0 1100.0,1420.0 1098.0,1512.0 930.0,1512.0 925.0,1420.0" fill="#5b5a8d" /><path d="M1062,1740 C1080,1730 1105,1740 1112,1760 L1115,1810 C1100,1825 1075,1822 1062,1805 Z" fill="#555a5a" /><path d="M970.8,1084 C985,1080 1000,1085 1010,1092 L1059.4,1102.4 C1075,1110 1085,1122 1088.4,1133.2 C1100,1140 1108,1155 1107.6,1168 C1105,1200 1098,1250 1092,1290 C1090,1305 1088,1318 1086.4,1324 C1040,1335 980,1332 940,1328 C938,1290 941,1240 943.8,1208.4 C930,1200 912,1192 900.4,1183.3 C915,1150 940,1105 970.8,1084 Z" fill="#7577b2" /><path d="M970.8,1084 C950,1100 920,1150 900.4,1183.3 C912,1192 930,1200 943.8,1208.4 C944,1170 950,1120 965,1095 Z" fill="#6365a3" /><path d="M1088.4,1134.2 C1100,1140 1108,1155 1107.6,1168 C1106,1190 1100,1215 1096,1227.7 C1090,1245 1080,1262 1073,1272 C1050,1262 1030,1248 1015,1233.4 C1030,1210 1045,1185 1053.7,1168 C1062,1152 1075,1138 1088.4,1134.2 Z" fill="#6365a3" /><path d="M999,1095 C1000,1115 1010,1135 1025,1140 C1040,1142 1055,1128 1065,1110 L1059,1102 C1050,1115 1040,1125 1028,1125 C1018,1122 1010,1110 1006,1094 Z" fill="#6365a3" /><path d="M906.2,1193 L942.8,1209.4 L940,1233.4 L915,1268 L872.5,1295 L853.2,1312.5 L843.6,1337.5 L835.9,1341.4 L834,1328 L805,1341.4 L792.5,1333.7 L799.3,1316.3 L834,1291.3 L872.5,1264.3 L891.8,1233.4 Z" fill="#ecbcc5" stroke="#ecbcc5" stroke-width="3" stroke-linejoin="round"/><path d="M1019,1245 L1059.4,1268 L1030.5,1301 L982.4,1329.8 L949.6,1349 L926.5,1376 L903.3,1387.6 L888,1376 L895.6,1356.8 L914.9,1345.2 L891.8,1343.3 L903.3,1337.5 L938,1329.8 L972.7,1308.6 L1001.6,1275.8 Z" fill="#ecbcc5" stroke="#ecbcc5" stroke-width="3" stroke-linejoin="round"/><path d="M994,1075 L1047,1072 L1050,1102 C1040,1115 1020,1128 998,1134 Z" fill="#dc9ea9" /><path d="M996,1100 C1000,1120 1008,1140 1020,1142 C1040,1140 1058,1122 1064,1106 L1056,1100 C1045,1115 1030,1128 1010,1130 C1004,1122 1001,1110 1000,1098 Z" fill="#6365a3" /><path d="M968,1060 C968,1080 978,1095 998,1098 C1020,1098 1040,1088 1048,1072 L1050,1030 L970,1035 Z" fill="#ecbcc5" /><path d="M1028,1018 L1064,1008 C1070,1025 1070,1045 1066,1060 C1060,1068 1055,1070 1048,1068 L1045,1050 C1040,1046 1035,1048 1030,1052 Z" fill="#2b2644" /><ellipse cx="1040" cy="1047" rx="6" ry="9" fill="#ecbcc5" /><path d="M968,1010 C968,985 985,965 1010,962 C1040,960 1062,985 1066,1018 C1040,1028 1010,1030 968,1015 Z" fill="#7577b2" /><polygon points="968.0,1008.0 1034.0,1040.0 1066.0,1016.0" fill="#7577b2" /><ellipse cx="1011" cy="963" rx="7" ry="3" fill="#6365a3" /><path d="M925,1044 C940,1032 955,1020 968,1013 C995,1025 1015,1030 1032,1036 C1015,1050 990,1062 968,1065 C950,1065 932,1055 925,1044 Z" fill="#6365a3" /><ellipse cx="994" cy="1001" rx="19" ry="14" fill="#ffffff" transform="rotate(15 994 1001)" /><ellipse cx="1012" cy="1842" rx="40" ry="32" fill="#2b2644" /><ellipse cx="1005" cy="1845" rx="25" ry="20" fill="#ffffff" /><ellipse cx="1005" cy="1845" rx="17" ry="13" fill="#2b2644" /><polygon points="325.3,1313.2 836.3,1608.8 836.3,1935.0 325.3,1643.6" fill="#352d4e" /><polygon points="836.3,1608.8 1068.6,1490.5 1068.6,1805.0 836.3,1935.0" fill="#463d5f" /><polygon points="325.3,1313.2 557.6,1194.9 1068.6,1490.5 836.3,1608.8" fill="#5a5173" /><polygon points="591.4,1450.4 792.0,1340.6 1060.0,1488.4 842.7,1602.4" fill="#4b4266" /><polygon points="600.0,1450.0 792.0,1348.0 1045.0,1488.0 843.0,1593.0" fill="#2c2543" /><polygon points="344.3,1104.1 542.8,1218.2 542.8,1429.3 344.3,1315.0" fill="#2c2543" /><polygon points="542.8,1218.2 762.4,1093.6 762.4,1310.0 542.8,1429.3" fill="#352d4e" /><polygon points="344.3,1104.1 559.7,979.6 762.4,1093.6 542.8,1218.2" fill="#463d5f" /><polygon points="363.3,1137.9 523.8,1230.8 523.8,1397.6 363.3,1304.7" fill="#ffffff" /><path d="M378,1218 q15.0,-12.0 30,0 q-15.0,12.0 -30,0 Z" transform="rotate(-75 378 1218)" fill="#6fb6ae"/><path d="M382,1215 q12.0,-9.600000000000001 24,0 q-12.0,9.600000000000001 -24,0 Z" transform="rotate(-40 382 1215)" fill="#6fb6ae"/><path d="M370,1262 q11.0,-8.8 22,0 q-11.0,8.8 -22,0 Z" transform="rotate(190 370 1262)" fill="#6fb6ae"/><path d="M372,1282 q10.0,-8.0 20,0 q-10.0,8.0 -20,0 Z" transform="rotate(160 372 1282)" fill="#6fb6ae"/><path d="M458,1247 q12.0,-9.600000000000001 24,0 q-12.0,9.600000000000001 -24,0 Z" transform="rotate(-15 458 1247)" fill="#6fb6ae"/><path d="M468,1272 q15.0,-12.0 30,0 q-15.0,12.0 -30,0 Z" transform="rotate(-25 468 1272)" fill="#6fb6ae"/><path d="M466,1306 q17.0,-13.600000000000001 34,0 q-17.0,13.600000000000001 -34,0 Z" transform="rotate(75 466 1306)" fill="#6fb6ae"/><path d="M478,1310 q15.0,-12.0 30,0 q-15.0,12.0 -30,0 Z" transform="rotate(45 478 1310)" fill="#6fb6ae"/><ellipse cx="438" cy="1265" rx="55" ry="24" fill="#d48c9f" transform="rotate(32 438 1265)" /><ellipse cx="446" cy="1255" rx="50" ry="16" fill="#e4acb9" transform="rotate(32 446 1255)" /><path d="M412,1228 l8,12 l4,-12 l8,14 l4,-12 l8,14 l4,-12 l8,14 l4,-12 l8,14 l4,-10 l6,12" fill="none" stroke="#e5b13b" stroke-width="3.5" stroke-linejoin="round" transform="rotate(32 440 1255) translate(-8 18) rotate(-32 440 1255)"/><polygon points="357.0,1361.7 473.1,1427.2 473.1,1625.7 357.0,1560.2" fill="#b03d66" /><polygon points="362.0,1372.0 468.0,1432.0 468.0,1614.0 362.0,1553.0" fill="#ffffff" /><line x1="370" y1="1385" x2="410" y2="1408" stroke="#2b2644" stroke-width="5" stroke-linecap="round" stroke-linecap="butt"/><line x1="420" y1="1413" x2="460" y2="1436" stroke="#2b2644" stroke-width="5" stroke-linecap="round" stroke-linecap="butt"/><line x1="370" y1="1401" x2="410" y2="1424" stroke="#2b2644" stroke-width="5" stroke-linecap="round" stroke-linecap="butt"/><line x1="420" y1="1429" x2="460" y2="1452" stroke="#2b2644" stroke-width="5" stroke-linecap="round" stroke-linecap="butt"/><line x1="370" y1="1417" x2="410" y2="1440" stroke="#2b2644" stroke-width="5" stroke-linecap="round" stroke-linecap="butt"/><line x1="420" y1="1445" x2="460" y2="1468" stroke="#2b2644" stroke-width="5" stroke-linecap="round" stroke-linecap="butt"/><line x1="370" y1="1433" x2="410" y2="1456" stroke="#2b2644" stroke-width="5" stroke-linecap="round" stroke-linecap="butt"/><line x1="420" y1="1461" x2="460" y2="1484" stroke="#2b2644" stroke-width="5" stroke-linecap="round" stroke-linecap="butt"/><line x1="370" y1="1449" x2="410" y2="1472" stroke="#2b2644" stroke-width="5" stroke-linecap="round" stroke-linecap="butt"/><line x1="420" y1="1477" x2="460" y2="1500" stroke="#2b2644" stroke-width="5" stroke-linecap="round" stroke-linecap="butt"/><line x1="370" y1="1465" x2="410" y2="1488" stroke="#2b2644" stroke-width="5" stroke-linecap="round" stroke-linecap="butt"/><line x1="420" y1="1493" x2="460" y2="1516" stroke="#2b2644" stroke-width="5" stroke-linecap="round" stroke-linecap="butt"/><line x1="370" y1="1481" x2="410" y2="1504" stroke="#2b2644" stroke-width="5" stroke-linecap="round" stroke-linecap="butt"/><line x1="420" y1="1509" x2="460" y2="1532" stroke="#2b2644" stroke-width="5" stroke-linecap="round" stroke-linecap="butt"/><line x1="370" y1="1497" x2="410" y2="1520" stroke="#2b2644" stroke-width="5" stroke-linecap="round" stroke-linecap="butt"/><line x1="420" y1="1525" x2="460" y2="1548" stroke="#2b2644" stroke-width="5" stroke-linecap="round" stroke-linecap="butt"/><line x1="370" y1="1513" x2="410" y2="1536" stroke="#2b2644" stroke-width="5" stroke-linecap="round" stroke-linecap="butt"/><line x1="420" y1="1541" x2="460" y2="1564" stroke="#2b2644" stroke-width="5" stroke-linecap="round" stroke-linecap="butt"/><line x1="370" y1="1529" x2="410" y2="1552" stroke="#2b2644" stroke-width="5" stroke-linecap="round" stroke-linecap="butt"/><line x1="420" y1="1557" x2="460" y2="1580" stroke="#2b2644" stroke-width="5" stroke-linecap="round" stroke-linecap="butt"/><line x1="370" y1="1545" x2="410" y2="1568" stroke="#2b2644" stroke-width="5" stroke-linecap="round" stroke-linecap="butt"/><line x1="420" y1="1573" x2="460" y2="1596" stroke="#2b2644" stroke-width="5" stroke-linecap="round" stroke-linecap="butt"/><polygon points="593.5,1529.6 798.3,1643.6 798.3,1829.4 593.5,1711.1" fill="#b03d66" /><polygon points="598.5,1540.0 793.3,1648.5 793.3,1819.0 598.5,1705.0" fill="#ffffff" /><path d="M604,1640 C598,1625 606,1605 622,1602 C630,1594 645,1596 650,1603 C660,1596 675,1600 680,1610 C690,1615 688,1630 680,1636 L640,1660 Z" fill="#78bab3" /><path d="M700,1700 C710,1690 730,1688 742,1698 C752,1694 766,1700 768,1712 C778,1720 774,1735 766,1740 C772,1752 764,1766 752,1766 C745,1775 728,1774 722,1766 L690,1740 Z" fill="#78bab3" /><path d="M612,1640 C630,1630 660,1640 690,1680 L720,1740 L700,1745 Z" fill="#66a69f" /><path d="M622.7,1640.0 Q666.3,1682.0 697.3,1734.0" fill="none" stroke="#a85670" stroke-width="33" stroke-linecap="round"/><path d="M622.7,1640.0 Q666.3,1682.0 697.3,1734.0" fill="none" stroke="#c27386" stroke-width="26" stroke-linecap="round" transform="translate(-1,-2.5)"/><line x1="625.4562370351096" y1="1635.547042555269" x2="633.4562370351096" y2="1647.547042555269" stroke="#e7b3c1" stroke-width="1.6" stroke-linecap="round" /><line x1="633.4562370351096" y1="1635.547042555269" x2="625.4562370351096" y2="1647.547042555269" stroke="#e7b3c1" stroke-width="1.6" stroke-linecap="round" /><line x1="636.0157492998409" y1="1648.8698313298082" x2="644.0157492998409" y2="1660.8698313298082" stroke="#e7b3c1" stroke-width="1.6" stroke-linecap="round" /><line x1="644.0157492998409" y1="1648.8698313298082" x2="636.0157492998409" y2="1660.8698313298082" stroke="#e7b3c1" stroke-width="1.6" stroke-linecap="round" /><line x1="646.5752615645721" y1="1662.1926201043475" x2="654.5752615645721" y2="1674.1926201043475" stroke="#e7b3c1" stroke-width="1.6" stroke-linecap="round" /><line x1="654.5752615645721" y1="1662.1926201043475" x2="646.5752615645721" y2="1674.1926201043475" stroke="#e7b3c1" stroke-width="1.6" stroke-linecap="round" /><line x1="657.1347738293034" y1="1675.5154088788868" x2="665.1347738293034" y2="1687.5154088788868" stroke="#e7b3c1" stroke-width="1.6" stroke-linecap="round" /><line x1="665.1347738293034" y1="1675.5154088788868" x2="657.1347738293034" y2="1687.5154088788868" stroke="#e7b3c1" stroke-width="1.6" stroke-linecap="round" /><line x1="667.6942860940347" y1="1688.838197653426" x2="675.6942860940347" y2="1700.838197653426" stroke="#e7b3c1" stroke-width="1.6" stroke-linecap="round" /><line x1="675.6942860940347" y1="1688.838197653426" x2="667.6942860940347" y2="1700.838197653426" stroke="#e7b3c1" stroke-width="1.6" stroke-linecap="round" /><line x1="678.253798358766" y1="1702.1609864279653" x2="686.253798358766" y2="1714.1609864279653" stroke="#e7b3c1" stroke-width="1.6" stroke-linecap="round" /><line x1="686.253798358766" y1="1702.1609864279653" x2="678.253798358766" y2="1714.1609864279653" stroke="#e7b3c1" stroke-width="1.6" stroke-linecap="round" /><line x1="688.8133106234973" y1="1715.4837752025046" x2="696.8133106234973" y2="1727.4837752025046" stroke="#e7b3c1" stroke-width="1.6" stroke-linecap="round" /><line x1="696.8133106234973" y1="1715.4837752025046" x2="688.8133106234973" y2="1727.4837752025046" stroke="#e7b3c1" stroke-width="1.6" stroke-linecap="round" /><path d="M666.8,1636.0 Q709.3,1677.1 739.2,1728.0" fill="none" stroke="#a85670" stroke-width="33" stroke-linecap="round"/><path d="M666.8,1636.0 Q709.3,1677.1 739.2,1728.0" fill="none" stroke="#c27386" stroke-width="26" stroke-linecap="round" transform="translate(-1,-2.5)"/><line x1="669.223007804824" y1="1631.2335217597997" x2="677.223007804824" y2="1643.2335217597997" stroke="#e7b3c1" stroke-width="1.6" stroke-linecap="round" /><line x1="677.223007804824" y1="1631.2335217597997" x2="669.223007804824" y2="1643.2335217597997" stroke="#e7b3c1" stroke-width="1.6" stroke-linecap="round" /><line x1="679.5298143941164" y1="1644.3311366460564" x2="687.5298143941164" y2="1656.3311366460564" stroke="#e7b3c1" stroke-width="1.6" stroke-linecap="round" /><line x1="687.5298143941164" y1="1644.3311366460564" x2="679.5298143941164" y2="1656.3311366460564" stroke="#e7b3c1" stroke-width="1.6" stroke-linecap="round" /><line x1="689.836620983409" y1="1657.428751532313" x2="697.836620983409" y2="1669.428751532313" stroke="#e7b3c1" stroke-width="1.6" stroke-linecap="round" /><line x1="697.836620983409" y1="1657.428751532313" x2="689.836620983409" y2="1669.428751532313" stroke="#e7b3c1" stroke-width="1.6" stroke-linecap="round" /><line x1="700.1434275727016" y1="1670.5263664185698" x2="708.1434275727016" y2="1682.5263664185698" stroke="#e7b3c1" stroke-width="1.6" stroke-linecap="round" /><line x1="708.1434275727016" y1="1670.5263664185698" x2="700.1434275727016" y2="1682.5263664185698" stroke="#e7b3c1" stroke-width="1.6" stroke-linecap="round" /><line x1="710.4502341619942" y1="1683.6239813048264" x2="718.4502341619942" y2="1695.6239813048264" stroke="#e7b3c1" stroke-width="1.6" stroke-linecap="round" /><line x1="718.4502341619942" y1="1683.6239813048264" x2="710.4502341619942" y2="1695.6239813048264" stroke="#e7b3c1" stroke-width="1.6" stroke-linecap="round" /><line x1="720.7570407512868" y1="1696.721596191083" x2="728.7570407512868" y2="1708.721596191083" stroke="#e7b3c1" stroke-width="1.6" stroke-linecap="round" /><line x1="728.7570407512868" y1="1696.721596191083" x2="720.7570407512868" y2="1708.721596191083" stroke="#e7b3c1" stroke-width="1.6" stroke-linecap="round" /><line x1="731.0638473405793" y1="1709.8192110773398" x2="739.0638473405793" y2="1721.8192110773398" stroke="#e7b3c1" stroke-width="1.6" stroke-linecap="round" /><line x1="739.0638473405793" y1="1709.8192110773398" x2="731.0638473405793" y2="1721.8192110773398" stroke="#e7b3c1" stroke-width="1.6" stroke-linecap="round" /><line x1="655" y1="1578" x2="785" y2="1644" stroke="#b03d66" stroke-width="8" stroke-linecap="round" stroke-linecap="butt"/><line x1="710" y1="1635" x2="785" y2="1676" stroke="#b03d66" stroke-width="8" stroke-linecap="round" stroke-linecap="butt"/><polygon points="844.8,1620.4 946.0,1669.0 946.0,1814.6 844.8,1759.7" fill="#2c2543" /><polygon points="946.0,1669.0 1161.5,1550.7 1161.5,1690.0 946.0,1814.6" fill="#352d4e" /><polygon points="844.8,1620.4 1060.0,1500.0 1161.5,1550.7 946.0,1669.0" fill="#2e2746" /><polygon points="1051.7,1626.7 1153.0,1571.8 1153.0,1681.6 1051.7,1742.8" fill="#b03d66" /><polygon points="1056.0,1632.0 1149.0,1581.0 1149.0,1676.0 1056.0,1734.0" fill="#ffffff" /><ellipse cx="1105" cy="1675" rx="38" ry="13" fill="#d59aa9" transform="rotate(-28 1105 1675)" /><path d="M1075,1690 q8,-14 16,-2 t16,-6 t16,-8 t12,-12" fill="none" stroke="#e5b13b" stroke-width="3"/><path d="M349,1658 C360,1625 400,1610 440,1630 C470,1650 490,1690 490,1740" fill="none" stroke="#ffffff" stroke-width="6"/><ellipse cx="425" cy="1722" rx="68" ry="88" fill="#463d5f" transform="rotate(-8 425 1722)" /><ellipse cx="416" cy="1720" rx="60" ry="80" fill="#2b2644" transform="rotate(-8 416 1720)" /><ellipse cx="414" cy="1724" rx="46" ry="66" fill="none" transform="rotate(-8 414 1724)" stroke="#ffffff" stroke-width="10"/><ellipse cx="414" cy="1724" rx="13" ry="17" fill="#ffffff" /><ellipse cx="782" cy="1944" rx="50" ry="56" fill="#463d5f" transform="rotate(-8 782 1944)" /><ellipse cx="772" cy="1946" rx="44" ry="52" fill="#2b2644" transform="rotate(-8 772 1946)" /><ellipse cx="765" cy="1948" rx="27" ry="39" fill="none" transform="rotate(-8 765 1948)" stroke="#ffffff" stroke-width="8"/><ellipse cx="765" cy="1948" rx="8" ry="10" fill="#ffffff" /><path d="M439.2,999.3 L439.2,1092.3 A24.75,10 0 0 0 488.7,1092.3 L488.7,999.3 Z" fill="#c2456c"/><path d="M439.2,1086.3 A24.75,10 0 0 0 488.7,1086.3 L488.7,1092.3 A24.75,10 0 0 1 439.2,1092.3 Z" fill="#a6345b"/><ellipse cx="463.95" cy="999.3" rx="24.75" ry="12.5" fill="#a6345b" /><ellipse cx="463.95" cy="997.8" rx="20.75" ry="9.5" fill="#d6587c" /><ellipse cx="463.95" cy="997.3" rx="15.75" ry="6.5" fill="#c2456c" /><ellipse cx="457.95" cy="998.3" rx="3.6" ry="2.6" fill="#2b2644" /><path d="M442.2,1077.3 C451.2,1059.3 467.2,1051.3 488.7,1039.3 L488.7,1046.3 C469.2,1057.3 457.2,1067.3 442.2,1077.3 Z" fill="#ffffff"/><path d="M442.2,1089.3 C453.2,1073.3 469.2,1063.3 488.7,1055.3 L488.7,1061.3 C471.2,1069.3 457.2,1079.3 442.2,1089.3 Z" fill="#ffffff"/><path d="M393.3,1022 L393.3,1115 A24.75,10 0 0 0 442.8,1115 L442.8,1022 Z" fill="#c2456c"/><path d="M393.3,1109 A24.75,10 0 0 0 442.8,1109 L442.8,1115 A24.75,10 0 0 1 393.3,1115 Z" fill="#a6345b"/><ellipse cx="418.05" cy="1022" rx="24.75" ry="12.5" fill="#a6345b" /><ellipse cx="418.05" cy="1020.5" rx="20.75" ry="9.5" fill="#d6587c" /><ellipse cx="418.05" cy="1020" rx="15.75" ry="6.5" fill="#c2456c" /><ellipse cx="412.05" cy="1021" rx="3.6" ry="2.6" fill="#2b2644" /><path d="M396.3,1100 C405.3,1082 421.3,1074 442.8,1062 L442.8,1069 C423.3,1080 411.3,1090 396.3,1100 Z" fill="#ffffff"/><path d="M396.3,1112 C407.3,1096 423.3,1086 442.8,1078 L442.8,1084 C425.3,1092 411.3,1102 396.3,1112 Z" fill="#ffffff"/><path d="M482.6,1023.3 L482.6,1116.3 A24.75,10 0 0 0 532.1,1116.3 L532.1,1023.3 Z" fill="#6aaba4"/><path d="M482.6,1110.3 A24.75,10 0 0 0 532.1,1110.3 L532.1,1116.3 A24.75,10 0 0 1 482.6,1116.3 Z" fill="#579790"/><ellipse cx="507.35" cy="1023.3" rx="24.75" ry="12.5" fill="#579790" /><ellipse cx="507.35" cy="1021.8" rx="20.75" ry="9.5" fill="#80c0ba" /><ellipse cx="507.35" cy="1021.3" rx="15.75" ry="6.5" fill="#6aaba4" /><ellipse cx="501.35" cy="1022.3" rx="3.6" ry="2.6" fill="#2b2644" /><path d="M485.6,1101.3 C494.6,1083.3 510.6,1075.3 532.1,1063.3 L532.1,1070.3 C512.6,1081.3 500.6,1091.3 485.6,1101.3 Z" fill="#ffffff"/><path d="M485.6,1113.3 C496.6,1097.3 512.6,1087.3 532.1,1079.3 L532.1,1085.3 C514.6,1093.3 500.6,1103.3 485.6,1113.3 Z" fill="#ffffff"/><path d="M436.8,1046 L436.8,1139 A24.75,10 0 0 0 486.3,1139 L486.3,1046 Z" fill="#6aaba4"/><path d="M436.8,1133 A24.75,10 0 0 0 486.3,1133 L486.3,1139 A24.75,10 0 0 1 436.8,1139 Z" fill="#579790"/><ellipse cx="461.55" cy="1046" rx="24.75" ry="12.5" fill="#579790" /><ellipse cx="461.55" cy="1044.5" rx="20.75" ry="9.5" fill="#80c0ba" /><ellipse cx="461.55" cy="1044" rx="15.75" ry="6.5" fill="#6aaba4" /><ellipse cx="455.55" cy="1045" rx="3.6" ry="2.6" fill="#2b2644" /><path d="M439.8,1124 C448.8,1106 464.8,1098 486.3,1086 L486.3,1093 C466.8,1104 454.8,1114 439.8,1124 Z" fill="#ffffff"/><path d="M439.8,1136 C450.8,1120 466.8,1110 486.3,1102 L486.3,1108 C468.8,1116 454.8,1126 439.8,1136 Z" fill="#ffffff"/><path d="M523.4,1047.3 L523.4,1140.3 A24.75,10 0 0 0 572.9,1140.3 L572.9,1047.3 Z" fill="#c2456c"/><path d="M523.4,1134.3 A24.75,10 0 0 0 572.9,1134.3 L572.9,1140.3 A24.75,10 0 0 1 523.4,1140.3 Z" fill="#a6345b"/><ellipse cx="548.15" cy="1047.3" rx="24.75" ry="12.5" fill="#a6345b" /><ellipse cx="548.15" cy="1045.8" rx="20.75" ry="9.5" fill="#d6587c" /><ellipse cx="548.15" cy="1045.3" rx="15.75" ry="6.5" fill="#c2456c" /><ellipse cx="542.15" cy="1046.3" rx="3.6" ry="2.6" fill="#2b2644" /><path d="M526.4,1125.3 C535.4,1107.3 551.4,1099.3 572.9,1087.3 L572.9,1094.3 C553.4,1105.3 541.4,1115.3 526.4,1125.3 Z" fill="#ffffff"/><path d="M526.4,1137.3 C537.4,1121.3 553.4,1111.3 572.9,1103.3 L572.9,1109.3 C555.4,1117.3 541.4,1127.3 526.4,1137.3 Z" fill="#ffffff"/><path d="M477.3,1070 L477.3,1163 A24.75,10 0 0 0 526.8,1163 L526.8,1070 Z" fill="#c2456c"/><path d="M477.3,1157 A24.75,10 0 0 0 526.8,1157 L526.8,1163 A24.75,10 0 0 1 477.3,1163 Z" fill="#a6345b"/><ellipse cx="502.05" cy="1070" rx="24.75" ry="12.5" fill="#a6345b" /><ellipse cx="502.05" cy="1068.5" rx="20.75" ry="9.5" fill="#d6587c" /><ellipse cx="502.05" cy="1068" rx="15.75" ry="6.5" fill="#c2456c" /><ellipse cx="496.05" cy="1069" rx="3.6" ry="2.6" fill="#2b2644" /><path d="M480.3,1148 C489.3,1130 505.3,1122 526.8,1110 L526.8,1117 C507.3,1128 495.3,1138 480.3,1148 Z" fill="#ffffff"/><path d="M480.3,1160 C491.3,1144 507.3,1134 526.8,1126 L526.8,1132 C509.3,1140 495.3,1150 480.3,1160 Z" fill="#ffffff"/><path d="M565.2,1070.7 L565.2,1163.7 A24.75,10 0 0 0 614.7,1163.7 L614.7,1070.7 Z" fill="#6aaba4"/><path d="M565.2,1157.7 A24.75,10 0 0 0 614.7,1157.7 L614.7,1163.7 A24.75,10 0 0 1 565.2,1163.7 Z" fill="#579790"/><ellipse cx="589.95" cy="1070.7" rx="24.75" ry="12.5" fill="#579790" /><ellipse cx="589.95" cy="1069.2" rx="20.75" ry="9.5" fill="#80c0ba" /><ellipse cx="589.95" cy="1068.7" rx="15.75" ry="6.5" fill="#6aaba4" /><ellipse cx="583.95" cy="1069.7" rx="3.6" ry="2.6" fill="#2b2644" /><path d="M568.2,1148.7 C577.2,1130.7 593.2,1122.7 614.7,1110.7 L614.7,1117.7 C595.2,1128.7 583.2,1138.7 568.2,1148.7 Z" fill="#ffffff"/><path d="M568.2,1160.7 C579.2,1144.7 595.2,1134.7 614.7,1126.7 L614.7,1132.7 C597.2,1140.7 583.2,1150.7 568.2,1160.7 Z" fill="#ffffff"/><path d="M518.6,1093.1 L518.6,1186.1 A24.75,10 0 0 0 568.1,1186.1 L568.1,1093.1 Z" fill="#6aaba4"/><path d="M518.6,1180.1 A24.75,10 0 0 0 568.1,1180.1 L568.1,1186.1 A24.75,10 0 0 1 518.6,1186.1 Z" fill="#579790"/><ellipse cx="543.35" cy="1093.1" rx="24.75" ry="12.5" fill="#579790" /><ellipse cx="543.35" cy="1091.6" rx="20.75" ry="9.5" fill="#80c0ba" /><ellipse cx="543.35" cy="1091.1" rx="15.75" ry="6.5" fill="#6aaba4" /><ellipse cx="537.35" cy="1092.1" rx="3.6" ry="2.6" fill="#2b2644" /><path d="M521.6,1171.1 C530.6,1153.1 546.6,1145.1 568.1,1133.1 L568.1,1140.1 C548.6,1151.1 536.6,1161.1 521.6,1171.1 Z" fill="#ffffff"/><path d="M521.6,1183.1 C532.6,1167.1 548.6,1157.1 568.1,1149.1 L568.1,1155.1 C550.6,1163.1 536.6,1173.1 521.6,1183.1 Z" fill="#ffffff"/><path d="M580.0,1352 Q562,1326.0 568,1300 Q578,1326.0 608.0,1352 Z" fill="#ffffff"/><path d="M596.0,1352 Q594,1307.0 600,1262 Q610,1307.0 624.0,1352 Z" fill="#d7d5df"/><path d="M610.0,1352 Q622,1305.0 628,1258 Q638,1305.0 638.0,1352 Z" fill="#ffffff"/><path d="M622.0,1352 Q646,1313.5 652,1275 Q662,1313.5 650.0,1352 Z" fill="#d7d5df"/><path d="M634.0,1352 Q670,1326.0 676,1300 Q686,1326.0 662.0,1352 Z" fill="#ffffff"/><path d="M602.0,1352 Q606,1321.0 612,1290 Q622,1321.0 630.0,1352 Z" fill="#e9e7ee"/><polygon points="583.0,1347.0 657.0,1347.0 651.0,1422.0 589.0,1422.0" fill="#b03d66" /><ellipse cx="620" cy="1422" rx="31" ry="8" fill="#b03d66" /><path d="M672,1282 C672,1262 690,1258 700,1258 C710,1258 728,1262 728,1282 L728,1368 A28,9 0 0 1 672,1368 Z" fill="#b03d66"/><ellipse cx="700" cy="1262" rx="16" ry="6" fill="#c2517a" /><path d="M694,1262 L697,1247 L703,1247 L706,1262 Z" fill="#b03d66"/><ellipse cx="700" cy="1247" rx="4" ry="2" fill="#c2517a" /><path d="M720,1258 C720,1238 738,1234 748,1234 C758,1234 776,1238 776,1258 L776,1340 A28,9 0 0 1 720,1340 Z" fill="#ebb83a"/><ellipse cx="748" cy="1238" rx="16" ry="6" fill="#f2c94e" /><path d="M742,1238 L745,1222 L751,1222 L754,1238 Z" fill="#ebb83a"/><ellipse cx="748" cy="1222" rx="4" ry="2" fill="#f2c94e" /><path d="M783.7,1364.4 Q817.5,1373.6 846.3,1393.6" fill="none" stroke="#a85670" stroke-width="31" stroke-linecap="round"/><path d="M783.7,1364.4 Q817.5,1373.6 846.3,1393.6" fill="none" stroke="#c27386" stroke-width="24" stroke-linecap="round" transform="translate(-1,-2.5)"/><line x1="780.0575952173338" y1="1353.1938012475334" x2="788.0575952173338" y2="1365.1938012475334" stroke="#e7b3c1" stroke-width="1.6" stroke-linecap="round" /><line x1="788.0575952173338" y1="1353.1938012475334" x2="780.0575952173338" y2="1365.1938012475334" stroke="#e7b3c1" stroke-width="1.6" stroke-linecap="round" /><line x1="790.1276817399632" y1="1357.889559711319" x2="798.1276817399632" y2="1369.889559711319" stroke="#e7b3c1" stroke-width="1.6" stroke-linecap="round" /><line x1="798.1276817399632" y1="1357.889559711319" x2="790.1276817399632" y2="1369.889559711319" stroke="#e7b3c1" stroke-width="1.6" stroke-linecap="round" /><line x1="800.1977682625926" y1="1362.5853181751045" x2="808.1977682625926" y2="1374.5853181751045" stroke="#e7b3c1" stroke-width="1.6" stroke-linecap="round" /><line x1="808.1977682625926" y1="1362.5853181751045" x2="800.1977682625926" y2="1374.5853181751045" stroke="#e7b3c1" stroke-width="1.6" stroke-linecap="round" /><line x1="810.2678547852221" y1="1367.28107663889" x2="818.2678547852221" y2="1379.28107663889" stroke="#e7b3c1" stroke-width="1.6" stroke-linecap="round" /><line x1="818.2678547852221" y1="1367.28107663889" x2="810.2678547852221" y2="1379.28107663889" stroke="#e7b3c1" stroke-width="1.6" stroke-linecap="round" /><line x1="820.3379413078516" y1="1371.9768351026755" x2="828.3379413078516" y2="1383.9768351026755" stroke="#e7b3c1" stroke-width="1.6" stroke-linecap="round" /><line x1="828.3379413078516" y1="1371.9768351026755" x2="820.3379413078516" y2="1383.9768351026755" stroke="#e7b3c1" stroke-width="1.6" stroke-linecap="round" /><line x1="830.4080278304809" y1="1376.672593566461" x2="838.4080278304809" y2="1388.672593566461" stroke="#e7b3c1" stroke-width="1.6" stroke-linecap="round" /><line x1="838.4080278304809" y1="1376.672593566461" x2="830.4080278304809" y2="1388.672593566461" stroke="#e7b3c1" stroke-width="1.6" stroke-linecap="round" /><line x1="840.4781143531104" y1="1381.3683520302466" x2="848.4781143531104" y2="1393.3683520302466" stroke="#e7b3c1" stroke-width="1.6" stroke-linecap="round" /><line x1="848.4781143531104" y1="1381.3683520302466" x2="840.4781143531104" y2="1393.3683520302466" stroke="#e7b3c1" stroke-width="1.6" stroke-linecap="round" /><path d="M747.0,1386.8 Q780.8,1396.0 809.6,1416.0" fill="none" stroke="#a85670" stroke-width="31" stroke-linecap="round"/><path d="M747.0,1386.8 Q780.8,1396.0 809.6,1416.0" fill="none" stroke="#c27386" stroke-width="24" stroke-linecap="round" transform="translate(-1,-2.5)"/><line x1="743.3575952173337" y1="1375.5938012475335" x2="751.3575952173337" y2="1387.5938012475335" stroke="#e7b3c1" stroke-width="1.6" stroke-linecap="round" /><line x1="751.3575952173337" y1="1375.5938012475335" x2="743.3575952173337" y2="1387.5938012475335" stroke="#e7b3c1" stroke-width="1.6" stroke-linecap="round" /><line x1="753.4276817399632" y1="1380.289559711319" x2="761.4276817399632" y2="1392.289559711319" stroke="#e7b3c1" stroke-width="1.6" stroke-linecap="round" /><line x1="761.4276817399632" y1="1380.289559711319" x2="753.4276817399632" y2="1392.289559711319" stroke="#e7b3c1" stroke-width="1.6" stroke-linecap="round" /><line x1="763.4977682625926" y1="1384.9853181751046" x2="771.4977682625926" y2="1396.9853181751046" stroke="#e7b3c1" stroke-width="1.6" stroke-linecap="round" /><line x1="771.4977682625926" y1="1384.9853181751046" x2="763.4977682625926" y2="1396.9853181751046" stroke="#e7b3c1" stroke-width="1.6" stroke-linecap="round" /><line x1="773.567854785222" y1="1389.68107663889" x2="781.567854785222" y2="1401.68107663889" stroke="#e7b3c1" stroke-width="1.6" stroke-linecap="round" /><line x1="781.567854785222" y1="1389.68107663889" x2="773.567854785222" y2="1401.68107663889" stroke="#e7b3c1" stroke-width="1.6" stroke-linecap="round" /><line x1="783.6379413078515" y1="1394.3768351026756" x2="791.6379413078515" y2="1406.3768351026756" stroke="#e7b3c1" stroke-width="1.6" stroke-linecap="round" /><line x1="791.6379413078515" y1="1394.3768351026756" x2="783.6379413078515" y2="1406.3768351026756" stroke="#e7b3c1" stroke-width="1.6" stroke-linecap="round" /><line x1="793.7080278304809" y1="1399.0725935664611" x2="801.7080278304809" y2="1411.0725935664611" stroke="#e7b3c1" stroke-width="1.6" stroke-linecap="round" /><line x1="801.7080278304809" y1="1399.0725935664611" x2="793.7080278304809" y2="1411.0725935664611" stroke="#e7b3c1" stroke-width="1.6" stroke-linecap="round" /><line x1="803.7781143531104" y1="1403.7683520302467" x2="811.7781143531104" y2="1415.7683520302467" stroke="#e7b3c1" stroke-width="1.6" stroke-linecap="round" /><line x1="811.7781143531104" y1="1403.7683520302467" x2="803.7781143531104" y2="1415.7683520302467" stroke="#e7b3c1" stroke-width="1.6" stroke-linecap="round" /><path d="M818.7,1438.5 Q845.8,1418.0 878.3,1408.1" fill="none" stroke="#a85670" stroke-width="31" stroke-linecap="round"/><path d="M818.7,1438.5 Q845.8,1418.0 878.3,1408.1" fill="none" stroke="#c27386" stroke-width="24" stroke-linecap="round" transform="translate(-1,-2.5)"/><line x1="812.0318153772947" y1="1426.45733675226" x2="820.0318153772947" y2="1438.45733675226" stroke="#e7b3c1" stroke-width="1.6" stroke-linecap="round" /><line x1="820.0318153772947" y1="1426.45733675226" x2="812.0318153772947" y2="1438.45733675226" stroke="#e7b3c1" stroke-width="1.6" stroke-linecap="round" /><line x1="821.7338864184569" y1="1421.513884643985" x2="829.7338864184569" y2="1433.513884643985" stroke="#e7b3c1" stroke-width="1.6" stroke-linecap="round" /><line x1="829.7338864184569" y1="1421.513884643985" x2="821.7338864184569" y2="1433.513884643985" stroke="#e7b3c1" stroke-width="1.6" stroke-linecap="round" /><line x1="831.4359574596192" y1="1416.5704325357099" x2="839.4359574596192" y2="1428.5704325357099" stroke="#e7b3c1" stroke-width="1.6" stroke-linecap="round" /><line x1="839.4359574596192" y1="1416.5704325357099" x2="831.4359574596192" y2="1428.5704325357099" stroke="#e7b3c1" stroke-width="1.6" stroke-linecap="round" /><line x1="841.1380285007814" y1="1411.6269804274348" x2="849.1380285007814" y2="1423.6269804274348" stroke="#e7b3c1" stroke-width="1.6" stroke-linecap="round" /><line x1="849.1380285007814" y1="1411.6269804274348" x2="841.1380285007814" y2="1423.6269804274348" stroke="#e7b3c1" stroke-width="1.6" stroke-linecap="round" /><line x1="850.8400995419436" y1="1406.6835283191597" x2="858.8400995419436" y2="1418.6835283191597" stroke="#e7b3c1" stroke-width="1.6" stroke-linecap="round" /><line x1="858.8400995419436" y1="1406.6835283191597" x2="850.8400995419436" y2="1418.6835283191597" stroke="#e7b3c1" stroke-width="1.6" stroke-linecap="round" /><line x1="860.5421705831059" y1="1401.7400762108846" x2="868.5421705831059" y2="1413.7400762108846" stroke="#e7b3c1" stroke-width="1.6" stroke-linecap="round" /><line x1="868.5421705831059" y1="1401.7400762108846" x2="860.5421705831059" y2="1413.7400762108846" stroke="#e7b3c1" stroke-width="1.6" stroke-linecap="round" /><line x1="870.244241624268" y1="1396.7966241026095" x2="878.244241624268" y2="1408.7966241026095" stroke="#e7b3c1" stroke-width="1.6" stroke-linecap="round" /><line x1="878.244241624268" y1="1396.7966241026095" x2="870.244241624268" y2="1408.7966241026095" stroke="#e7b3c1" stroke-width="1.6" stroke-linecap="round" /><path d="M855.0,1459.2 Q882.1,1438.7 914.6,1428.8" fill="none" stroke="#a85670" stroke-width="31" stroke-linecap="round"/><path d="M855.0,1459.2 Q882.1,1438.7 914.6,1428.8" fill="none" stroke="#c27386" stroke-width="24" stroke-linecap="round" transform="translate(-1,-2.5)"/><line x1="848.3318153772947" y1="1447.15733675226" x2="856.3318153772947" y2="1459.15733675226" stroke="#e7b3c1" stroke-width="1.6" stroke-linecap="round" /><line x1="856.3318153772947" y1="1447.15733675226" x2="848.3318153772947" y2="1459.15733675226" stroke="#e7b3c1" stroke-width="1.6" stroke-linecap="round" /><line x1="858.0338864184569" y1="1442.213884643985" x2="866.0338864184569" y2="1454.213884643985" stroke="#e7b3c1" stroke-width="1.6" stroke-linecap="round" /><line x1="866.0338864184569" y1="1442.213884643985" x2="858.0338864184569" y2="1454.213884643985" stroke="#e7b3c1" stroke-width="1.6" stroke-linecap="round" /><line x1="867.7359574596192" y1="1437.27043253571" x2="875.7359574596192" y2="1449.27043253571" stroke="#e7b3c1" stroke-width="1.6" stroke-linecap="round" /><line x1="875.7359574596192" y1="1437.27043253571" x2="867.7359574596192" y2="1449.27043253571" stroke="#e7b3c1" stroke-width="1.6" stroke-linecap="round" /><line x1="877.4380285007813" y1="1432.3269804274348" x2="885.4380285007813" y2="1444.3269804274348" stroke="#e7b3c1" stroke-width="1.6" stroke-linecap="round" /><line x1="885.4380285007813" y1="1432.3269804274348" x2="877.4380285007813" y2="1444.3269804274348" stroke="#e7b3c1" stroke-width="1.6" stroke-linecap="round" /><line x1="887.1400995419435" y1="1427.3835283191597" x2="895.1400995419435" y2="1439.3835283191597" stroke="#e7b3c1" stroke-width="1.6" stroke-linecap="round" /><line x1="895.1400995419435" y1="1427.3835283191597" x2="887.1400995419435" y2="1439.3835283191597" stroke="#e7b3c1" stroke-width="1.6" stroke-linecap="round" /><line x1="896.8421705831058" y1="1422.4400762108846" x2="904.8421705831058" y2="1434.4400762108846" stroke="#e7b3c1" stroke-width="1.6" stroke-linecap="round" /><line x1="904.8421705831058" y1="1422.4400762108846" x2="896.8421705831058" y2="1434.4400762108846" stroke="#e7b3c1" stroke-width="1.6" stroke-linecap="round" /><line x1="906.544241624268" y1="1417.4966241026095" x2="914.544241624268" y2="1429.4966241026095" stroke="#e7b3c1" stroke-width="1.6" stroke-linecap="round" /><line x1="914.544241624268" y1="1417.4966241026095" x2="906.544241624268" y2="1429.4966241026095" stroke="#e7b3c1" stroke-width="1.6" stroke-linecap="round" /><path d="M892.1,1479.5 Q919.2,1459.0 951.7,1449.1" fill="none" stroke="#a85670" stroke-width="31" stroke-linecap="round"/><path d="M892.1,1479.5 Q919.2,1459.0 951.7,1449.1" fill="none" stroke="#c27386" stroke-width="24" stroke-linecap="round" transform="translate(-1,-2.5)"/><line x1="885.4318153772947" y1="1467.45733675226" x2="893.4318153772947" y2="1479.45733675226" stroke="#e7b3c1" stroke-width="1.6" stroke-linecap="round" /><line x1="893.4318153772947" y1="1467.45733675226" x2="885.4318153772947" y2="1479.45733675226" stroke="#e7b3c1" stroke-width="1.6" stroke-linecap="round" /><line x1="895.1338864184569" y1="1462.513884643985" x2="903.1338864184569" y2="1474.513884643985" stroke="#e7b3c1" stroke-width="1.6" stroke-linecap="round" /><line x1="903.1338864184569" y1="1462.513884643985" x2="895.1338864184569" y2="1474.513884643985" stroke="#e7b3c1" stroke-width="1.6" stroke-linecap="round" /><line x1="904.8359574596192" y1="1457.5704325357099" x2="912.8359574596192" y2="1469.5704325357099" stroke="#e7b3c1" stroke-width="1.6" stroke-linecap="round" /><line x1="912.8359574596192" y1="1457.5704325357099" x2="904.8359574596192" y2="1469.5704325357099" stroke="#e7b3c1" stroke-width="1.6" stroke-linecap="round" /><line x1="914.5380285007814" y1="1452.6269804274348" x2="922.5380285007814" y2="1464.6269804274348" stroke="#e7b3c1" stroke-width="1.6" stroke-linecap="round" /><line x1="922.5380285007814" y1="1452.6269804274348" x2="914.5380285007814" y2="1464.6269804274348" stroke="#e7b3c1" stroke-width="1.6" stroke-linecap="round" /><line x1="924.2400995419436" y1="1447.6835283191597" x2="932.2400995419436" y2="1459.6835283191597" stroke="#e7b3c1" stroke-width="1.6" stroke-linecap="round" /><line x1="932.2400995419436" y1="1447.6835283191597" x2="924.2400995419436" y2="1459.6835283191597" stroke="#e7b3c1" stroke-width="1.6" stroke-linecap="round" /><line x1="933.9421705831058" y1="1442.7400762108846" x2="941.9421705831058" y2="1454.7400762108846" stroke="#e7b3c1" stroke-width="1.6" stroke-linecap="round" /><line x1="941.9421705831058" y1="1442.7400762108846" x2="933.9421705831058" y2="1454.7400762108846" stroke="#e7b3c1" stroke-width="1.6" stroke-linecap="round" /><line x1="943.644241624268" y1="1437.7966241026095" x2="951.644241624268" y2="1449.7966241026095" stroke="#e7b3c1" stroke-width="1.6" stroke-linecap="round" /><line x1="951.644241624268" y1="1437.7966241026095" x2="943.644241624268" y2="1449.7966241026095" stroke="#e7b3c1" stroke-width="1.6" stroke-linecap="round" /><path d="M927.5,1500.2 Q954.6,1479.7 987.1,1469.8" fill="none" stroke="#a85670" stroke-width="31" stroke-linecap="round"/><path d="M927.5,1500.2 Q954.6,1479.7 987.1,1469.8" fill="none" stroke="#c27386" stroke-width="24" stroke-linecap="round" transform="translate(-1,-2.5)"/><line x1="920.8318153772947" y1="1488.15733675226" x2="928.8318153772947" y2="1500.15733675226" stroke="#e7b3c1" stroke-width="1.6" stroke-linecap="round" /><line x1="928.8318153772947" y1="1488.15733675226" x2="920.8318153772947" y2="1500.15733675226" stroke="#e7b3c1" stroke-width="1.6" stroke-linecap="round" /><line x1="930.5338864184569" y1="1483.213884643985" x2="938.5338864184569" y2="1495.213884643985" stroke="#e7b3c1" stroke-width="1.6" stroke-linecap="round" /><line x1="938.5338864184569" y1="1483.213884643985" x2="930.5338864184569" y2="1495.213884643985" stroke="#e7b3c1" stroke-width="1.6" stroke-linecap="round" /><line x1="940.2359574596192" y1="1478.27043253571" x2="948.2359574596192" y2="1490.27043253571" stroke="#e7b3c1" stroke-width="1.6" stroke-linecap="round" /><line x1="948.2359574596192" y1="1478.27043253571" x2="940.2359574596192" y2="1490.27043253571" stroke="#e7b3c1" stroke-width="1.6" stroke-linecap="round" /><line x1="949.9380285007813" y1="1473.3269804274348" x2="957.9380285007813" y2="1485.3269804274348" stroke="#e7b3c1" stroke-width="1.6" stroke-linecap="round" /><line x1="957.9380285007813" y1="1473.3269804274348" x2="949.9380285007813" y2="1485.3269804274348" stroke="#e7b3c1" stroke-width="1.6" stroke-linecap="round" /><line x1="959.6400995419435" y1="1468.3835283191597" x2="967.6400995419435" y2="1480.3835283191597" stroke="#e7b3c1" stroke-width="1.6" stroke-linecap="round" /><line x1="967.6400995419435" y1="1468.3835283191597" x2="959.6400995419435" y2="1480.3835283191597" stroke="#e7b3c1" stroke-width="1.6" stroke-linecap="round" /><line x1="969.3421705831058" y1="1463.4400762108846" x2="977.3421705831058" y2="1475.4400762108846" stroke="#e7b3c1" stroke-width="1.6" stroke-linecap="round" /><line x1="977.3421705831058" y1="1463.4400762108846" x2="969.3421705831058" y2="1475.4400762108846" stroke="#e7b3c1" stroke-width="1.6" stroke-linecap="round" /><line x1="979.044241624268" y1="1458.4966241026095" x2="987.044241624268" y2="1470.4966241026095" stroke="#e7b3c1" stroke-width="1.6" stroke-linecap="round" /><line x1="987.044241624268" y1="1458.4966241026095" x2="979.044241624268" y2="1470.4966241026095" stroke="#e7b3c1" stroke-width="1.6" stroke-linecap="round" /><path d="M735.1,1445.8 Q795.5,1483.1 864.9,1498.2" fill="none" stroke="#b03d66" stroke-width="25" stroke-linecap="round"/><path d="M735.1,1445.8 Q795.5,1483.1 864.9,1498.2" fill="none" stroke="#d35c7e" stroke-width="18" stroke-linecap="round" transform="translate(-1,-2.5)"/><line x1="742.7572484383312" y1="1448.9597404895258" x2="747.7572484383312" y2="1457.9597404895258" stroke="#b03d66" stroke-width="2" stroke-linecap="round" /><line x1="759.755619105389" y1="1455.827528035484" x2="764.755619105389" y2="1464.827528035484" stroke="#b03d66" stroke-width="2" stroke-linecap="round" /><line x1="776.7539897724467" y1="1462.6953155814424" x2="781.7539897724467" y2="1471.6953155814424" stroke="#b03d66" stroke-width="2" stroke-linecap="round" /><line x1="793.7523604395045" y1="1469.5631031274008" x2="798.7523604395045" y2="1478.5631031274008" stroke="#b03d66" stroke-width="2" stroke-linecap="round" /><line x1="810.7507311065623" y1="1476.4308906733593" x2="815.7507311065623" y2="1485.4308906733593" stroke="#b03d66" stroke-width="2" stroke-linecap="round" /><line x1="827.74910177362" y1="1483.2986782193177" x2="832.74910177362" y2="1492.2986782193177" stroke="#b03d66" stroke-width="2" stroke-linecap="round" /><line x1="844.7474724406778" y1="1490.166465765276" x2="849.7474724406778" y2="1499.166465765276" stroke="#b03d66" stroke-width="2" stroke-linecap="round" /><path d="M750.1,1486.8 Q810.5,1524.1 879.9,1539.2" fill="none" stroke="#b03d66" stroke-width="25" stroke-linecap="round"/><path d="M750.1,1486.8 Q810.5,1524.1 879.9,1539.2" fill="none" stroke="#d35c7e" stroke-width="18" stroke-linecap="round" transform="translate(-1,-2.5)"/><line x1="757.7572484383312" y1="1489.9597404895258" x2="762.7572484383312" y2="1498.9597404895258" stroke="#b03d66" stroke-width="2" stroke-linecap="round" /><line x1="774.755619105389" y1="1496.827528035484" x2="779.755619105389" y2="1505.827528035484" stroke="#b03d66" stroke-width="2" stroke-linecap="round" /><line x1="791.7539897724467" y1="1503.6953155814424" x2="796.7539897724467" y2="1512.6953155814424" stroke="#b03d66" stroke-width="2" stroke-linecap="round" /><line x1="808.7523604395045" y1="1510.5631031274008" x2="813.7523604395045" y2="1519.5631031274008" stroke="#b03d66" stroke-width="2" stroke-linecap="round" /><line x1="825.7507311065623" y1="1517.4308906733593" x2="830.7507311065623" y2="1526.4308906733593" stroke="#b03d66" stroke-width="2" stroke-linecap="round" /><line x1="842.74910177362" y1="1524.2986782193177" x2="847.74910177362" y2="1533.2986782193177" stroke="#b03d66" stroke-width="2" stroke-linecap="round" /><line x1="859.7474724406778" y1="1531.166465765276" x2="864.7474724406778" y2="1540.166465765276" stroke="#b03d66" stroke-width="2" stroke-linecap="round" /><ellipse cx="651" cy="1464" rx="15" ry="8" transform="rotate(-10 651 1464)" fill="none" stroke="#f4f1f6" stroke-width="4" stroke-linecap="round"/><ellipse cx="690" cy="1437" rx="14" ry="7" transform="rotate(15 690 1437)" fill="none" stroke="#f4f1f6" stroke-width="4" stroke-linecap="round"/><ellipse cx="715" cy="1499" rx="15" ry="13" transform="rotate(20 715 1499)" fill="none" stroke="#f4f1f6" stroke-width="4" stroke-linecap="round"/><ellipse cx="672" cy="1470" rx="9" ry="6" transform="rotate(40 672 1470)" fill="none" stroke="#f4f1f6" stroke-width="4" stroke-linecap="round"/><ellipse cx="791" cy="1545" rx="14" ry="8" transform="rotate(5 791 1545)" fill="none" stroke="#f4f1f6" stroke-width="4" stroke-linecap="round"/><ellipse cx="818" cy="1553" rx="14" ry="9" transform="rotate(-10 818 1553)" fill="none" stroke="#f4f1f6" stroke-width="4" stroke-linecap="round"/><ellipse cx="875" cy="1562" rx="15" ry="8" transform="rotate(-15 875 1562)" fill="none" stroke="#f4f1f6" stroke-width="4" stroke-linecap="round"/><ellipse cx="842" cy="1560" rx="8" ry="6" transform="rotate(30 842 1560)" fill="none" stroke="#f4f1f6" stroke-width="4" stroke-linecap="round"/><path d="M617,1450 Q640,1438 662,1444 Q640,1444 617,1450 Z" fill="#f4f1f6" stroke="#f4f1f6" stroke-width="2.5" stroke-linejoin="round"/><path d="M676,1412 Q690,1404 710,1406 Q690,1410 676,1412 Z" fill="#f4f1f6" stroke="#f4f1f6" stroke-width="2.5" stroke-linejoin="round"/><path d="M712,1416 Q722,1440 715,1462 Q716,1440 708,1420 Z" fill="#f4f1f6" stroke="#f4f1f6" stroke-width="2.5" stroke-linejoin="round"/><path d="M678,1448 Q690,1470 686,1488 Q684,1470 672,1452 Z" fill="#f4f1f6" stroke="#f4f1f6" stroke-width="2.5" stroke-linejoin="round"/><path d="M683,1492 Q700,1490 714,1474 Q702,1494 683,1492 Z" fill="#f4f1f6" stroke="#f4f1f6" stroke-width="2.5" stroke-linejoin="round"/><path d="M640,1452 Q648,1468 650,1480 Q644,1468 636,1456 Z" fill="#f4f1f6" stroke="#f4f1f6" stroke-width="2.5" stroke-linejoin="round"/><path d="M880,1538 Q900,1536 916,1545 Q898,1540 880,1538 Z" fill="#f4f1f6" stroke="#f4f1f6" stroke-width="2.5" stroke-linejoin="round"/><path d="M838,1574 Q850,1570 862,1585 Q848,1576 838,1574 Z" fill="#f4f1f6" stroke="#f4f1f6" stroke-width="2.5" stroke-linejoin="round"/><path d="M856,1548 Q860,1566 852,1585 Q856,1566 850,1550 Z" fill="#f4f1f6" stroke="#f4f1f6" stroke-width="2.5" stroke-linejoin="round"/><path d="M865,1552 Q878,1546 890,1552 Q878,1550 865,1552 Z" fill="#f4f1f6" stroke="#f4f1f6" stroke-width="2.5" stroke-linejoin="round"/><path d="M152,1530 L297,1528 C298,1620 298,1720 296,1830 L262,1835 C258,1740 250,1660 242,1600 C238,1690 234,1780 228,1872 L176,1870 C168,1760 155,1640 152,1530 Z" fill="#68a9a2" /><path d="M172,1864 L231,1866 C235,1880 234,1895 225,1902 C205,1905 180,1902 170,1890 Z" fill="#68a9a2" /><polygon points="176.0,1862.0 228.0,1862.0 226.0,1878.0 178.0,1878.0" fill="#f0c4b0" /><path d="M140,1370 C135,1420 138,1470 150,1495 L160,1490 C155,1450 155,1410 160,1375 Z" fill="#ecbcc5" /><path d="M150,1315 C175,1305 230,1303 268,1310 C290,1318 300,1340 302,1390 L292,1405 L292,1520 C280,1540 250,1548 215,1546 C190,1545 165,1535 155,1525 C150,1460 148,1380 150,1315 Z" fill="#7fc0bb" /><path d="M245,1318 C270,1312 292,1325 300,1350 L302,1402 C290,1410 275,1410 265,1405 C258,1370 250,1340 245,1318 Z" fill="#68a9a2" /><path d="M268,1400 C285,1420 300,1440 320,1450 C360,1460 400,1458 430,1460 C445,1455 455,1458 462,1466 C462,1480 450,1492 440,1495 C400,1490 360,1485 320,1478 C298,1470 280,1450 265,1420 Z" fill="#ecbcc5" /><path d="M160,1215 C155,1180 175,1152 210,1150 C250,1148 272,1170 276,1200 L258,1204 C256,1240 258,1280 262,1310 C255,1345 230,1375 184,1398 C165,1360 156,1300 160,1215 Z" fill="#2b2644" /><path d="M258,1203 L276,1198 C278,1220 276,1245 270,1258 C265,1262 260,1262 258,1258 Z" fill="#ecbcc5" /><path d="M218,2095 L360,2093 C362,2200 362,2320 360,2416 L300,2418 C296,2330 292,2240 288,2150 C284,2230 282,2300 283,2370 L216,2372 C212,2280 212,2180 218,2095 Z" fill="#5b5a8d" /><path d="M218,2340 L283,2346 C290,2360 290,2375 280,2380 C260,2383 235,2383 220,2378 Z" fill="#352e50" /><path d="M300,2385 L362,2388 C380,2385 394,2392 392,2408 C380,2422 350,2432 310,2432 C298,2425 296,2405 300,2385 Z" fill="#352e50" /><path d="M228,1895 L300,1892 L340,1908 C360,1920 372,1950 380,1990 L362,2010 L360,2125 C320,2140 260,2140 228,2128 Z" fill="#f5d35f" /><path d="M305,1910 C330,1905 360,1920 372,1955 L380,1990 C365,2000 345,2005 330,2002 Z" fill="#e5b13b" /><path d="M345,2000 C362,2005 378,2000 392,1985 C402,2010 402,2040 390,2060 C378,2080 362,2090 360,2110 C362,2120 356,2128 348,2122 C340,2100 350,2075 365,2055 C372,2040 360,2020 345,2010 Z" fill="#ecbcc5" /><path d="M216,1920 C220,1895 235,1882 255,1880 C280,1880 300,1895 302,1930 L302,2075 C295,2090 270,2092 240,2090 C222,2088 214,2075 214,2060 Z" fill="#d2607c" /><path d="M218,2012 C240,2008 270,2010 290,2020 L290,2070 C270,2085 240,2085 222,2075 Z" fill="#b03d66" /><path d="M233,1925 C235,1955 255,1965 280,1955" fill="none" stroke="#b03d66" stroke-width="7"/><path d="M290,1900 C300,1920 308,1960 310,2000 C320,2030 330,2045 350,2050" fill="none" stroke="#d2607c" stroke-width="9"/><polygon points="285.0,1862.0 340.0,1862.0 342.0,1900.0 290.0,1905.0" fill="#dc9ea9" /><path d="M298,1810 C310,1795 340,1795 348,1815 C352,1840 345,1865 325,1870 C305,1870 295,1850 298,1810 Z" fill="#ecbcc5" /><path d="M260,1880 C240,1860 238,1820 245,1790 C255,1765 280,1755 310,1758 L345,1758 C340,1766 335,1772 330,1776 L360,1780 C352,1788 345,1795 338,1800 L358,1815 C345,1818 332,1816 322,1812 C310,1830 302,1855 300,1883 Z" fill="#2b2644" /></svg>
<div class="t" style="left:174.6px;top:125.3px;width:1543px;font-size:142px;line-height:170px;font-weight:700;color:#7e1c76;transform:scaleX(0.9608);transform-origin:9.4px 0;">Radiografía del trabajo</div>
<div class="t" style="left:174.2px;top:260.3px;width:1456px;font-size:142px;line-height:170px;font-weight:700;color:#7e1c76;transform:scaleX(0.9495);transform-origin:9.8px 0;">informal en Colombia</div>
<div class="t n" style="left:188.1px;top:545.9px;font-size:133px;line-height:160px;color:#7e1c76;letter-spacing:-3.00px;transform:scaleX(0.8923196045959917);transform-origin:0 0;"><span>6</span><span style="margin-left:-0.03em;margin-right:-0.03em">1</span><span style="margin-left:-0.02em;margin-right:-0.02em">,</span><span>2</span><span style="margin-left:-0.03em;margin-right:-0.03em">&nbsp;</span><span>%</span></div>
<div class="t b" style="left:242.8px;top:686.5px;width:226px;font-size:44px;line-height:53px;color:#3c3b3b;">del total de</div>
<div class="t b" style="left:196.6px;top:730.6px;width:319px;font-size:44px;line-height:53px;color:#3c3b3b;">trabajadores de</div>
<div class="t b" style="left:215.9px;top:774.7px;width:280px;font-size:44px;line-height:53px;color:#3c3b3b;">Colombia son</div>
<div class="t b" style="left:249.5px;top:818.8px;width:213px;font-size:44px;line-height:53px;color:#3c3b3b;">informales</div>
<div class="t n" style="left:680.6px;top:545.9px;font-size:133px;line-height:160px;color:#7e1c76;letter-spacing:1.41px;transform:scaleX(0.92);transform-origin:0 0;"><span>5</span><span>8</span><span style="margin-left:-0.02em;margin-right:-0.02em">,</span><span>6</span><span style="margin-left:-0.03em;margin-right:-0.03em">&nbsp;</span><span>%</span></div>
<div class="t b" style="left:671.7px;top:686.5px;width:390px;font-size:44px;line-height:53px;color:#3c3b3b;">de los trabajadores</div>
<div class="t b" style="left:717.2px;top:730.6px;width:299px;font-size:44px;line-height:53px;color:#3c3b3b;">informales son</div>
<div class="t b" style="left:658.3px;top:774.7px;width:416px;font-size:44px;line-height:53px;color:#3c3b3b;">hombres y el 41,4 %</div>
<div class="t b" style="left:784.2px;top:818.8px;width:165px;font-size:44px;line-height:53px;color:#3c3b3b;">mujeres</div>
<div class="t n" style="left:2800.8px;top:526.1px;font-size:132px;line-height:158px;color:#7e1c76;letter-spacing:1.09px;transform:scaleX(0.92);transform-origin:0 0;"><span>2</span><span>5</span><span style="margin-left:-0.02em;margin-right:-0.02em">,</span><span>2</span><span style="margin-left:-0.03em;margin-right:-0.03em">&nbsp;</span><span>%</span></div>
<div class="t b" style="left:2880.7px;top:667.7px;width:211px;font-size:44px;line-height:53px;color:#3c3b3b;">del PIB es</div>
<div class="t b" style="left:2849.5px;top:712.7px;width:273px;font-size:44px;line-height:53px;color:#3c3b3b;">generado por</div>
<div class="t b" style="left:2865.4px;top:757.7px;width:241px;font-size:44px;line-height:53px;color:#3c3b3b;">ellos (2018)</div>
<div class="t n" style="left:2943.7px;top:931.6px;font-size:132px;line-height:158px;color:#7e1c76;letter-spacing:-3.00px;transform:scaleX(0.7020799413751421);transform-origin:0 0;"><span>2</span><span style="margin-left:-0.03em;margin-right:-0.03em">1</span></div>
<div class="t b" style="left:2873.4px;top:1072.4px;width:233px;font-size:44px;line-height:53px;color:#3c3b3b;">millones de</div>
<div class="t b" style="left:2888.7px;top:1117.3px;width:203px;font-size:44px;line-height:53px;color:#3c3b3b;">personas,</div>
<div class="t b" style="left:2855.7px;top:1162.2px;width:269px;font-size:44px;line-height:53px;color:#3c3b3b;">alrededor del</div>
<div class="t b" style="left:2850.5px;top:1207.1px;width:279px;font-size:44px;line-height:53px;color:#3c3b3b;">43 % del total</div>
<div class="t b" style="left:2835.5px;top:1252.0px;width:309px;font-size:44px;line-height:53px;color:#3c3b3b;">de la población</div>
<div class="t b" style="left:2869.4px;top:1296.9px;width:241px;font-size:44px;line-height:53px;color:#3c3b3b;">del país (49</div>
<div class="t b" style="left:2890.9px;top:1341.8px;width:198px;font-size:44px;line-height:53px;color:#3c3b3b;">millones),</div>
<div class="t b" style="left:2860.9px;top:1386.7px;width:258px;font-size:44px;line-height:53px;color:#3c3b3b;">subsisten de</div>
<div class="t b" style="left:2864.8px;top:1431.6px;width:250px;font-size:44px;line-height:53px;color:#3c3b3b;">la economía</div>
<div class="t b" style="left:2907.4px;top:1476.5px;width:165px;font-size:44px;line-height:53px;color:#3c3b3b;">informal</div>
<div class="t" style="left:1262.3px;top:1550.2px;width:194px;font-size:61px;line-height:73px;font-weight:700;color:#8b3088;">60,4 %</div>
<div class="t b" style="left:1452.2px;top:1566.1px;width:1088px;font-size:44px;line-height:53px;color:#3c3b3b;"> de los trabajadores informales son por cuenta propia,</div>
<div class="t b" style="left:1291.2px;top:1621.0px;width:1220px;font-size:44px;line-height:53px;color:#3c3b3b;">lo que implica que sus actividades se conducen en unidades</div>
<div class="t b" style="left:1262.5px;top:1675.9px;width:1278px;font-size:44px;line-height:53px;color:#3c3b3b;">productivas de pequeña escala. Su labor es difícil de formalizar</div>
<div class="t b" style="left:1257.9px;top:1730.8px;width:1287px;font-size:44px;line-height:53px;color:#3c3b3b;">por la naturaleza de sus ocupaciones, los costos de acceso a la</div>
<div class="t b" style="left:1295.2px;top:1785.7px;width:1212px;font-size:44px;line-height:53px;color:#3c3b3b;">seguridad social, la dificultad de retornar a los esquemas de</div>
<div class="t b" style="left:1241.1px;top:1840.6px;width:1320px;font-size:44px;line-height:53px;color:#3c3b3b;">subsidios estatales cuando se pierde la condición de informal y la</div>
<div class="t b" style="left:1448.6px;top:1895.5px;width:905px;font-size:44px;line-height:53px;color:#3c3b3b;">flexibilidad horaria que ofrece la informalidad</div>
<div class="t b" style="left:2830.0px;top:1707.4px;width:87px;font-size:44px;line-height:53px;color:#3c3b3b;">Por </div>
<div class="t" style="left:2913.1px;top:1690.6px;width:38px;font-size:62px;line-height:74px;font-weight:700;color:#8b3088;">1</div>
<div class="t b" style="left:2947.6px;top:1707.4px;width:130px;font-size:44px;line-height:53px;color:#3c3b3b;"> mujer</div>
<div class="t b" style="left:2778.8px;top:1762.5px;width:264px;font-size:44px;line-height:53px;color:#3c3b3b;">informal hay </div>
<div class="t" style="left:3038.4px;top:1745.7px;width:90px;font-size:62px;line-height:74px;font-weight:700;color:#8b3088;">1,4</div>
<div class="t b" style="left:2753.1px;top:1817.1px;width:401px;font-size:44px;line-height:53px;color:#3c3b3b;">hombres informales</div>
<div class="t b" style="left:513.7px;top:2125.5px;width:87px;font-size:44px;line-height:53px;color:#3c3b3b;">Por </div>
<div class="t" style="left:596.8px;top:2108.7px;width:38px;font-size:62px;line-height:74px;font-weight:700;color:#8b3088;">1</div>
<div class="t b" style="left:631.3px;top:2125.5px;width:221px;font-size:44px;line-height:53px;color:#3c3b3b;"> trabajador</div>
<div class="t b" style="left:525.8px;top:2179.8px;width:228px;font-size:44px;line-height:53px;color:#3c3b3b;">formal hay </div>
<div class="t" style="left:750.0px;top:2163.0px;width:90px;font-size:62px;line-height:74px;font-weight:700;color:#8b3088;">1,6</div>
<div class="t b" style="left:576.5px;top:2234.3px;width:213px;font-size:44px;line-height:53px;color:#3c3b3b;">informales</div>
<div class="t" style="left:1172.6px;top:2102.2px;width:2024px;font-size:63px;line-height:76px;font-weight:700;color:#7e1c76;transform:scaleX(0.9058);transform-origin:4.2px 0;">Los tres sectores con el mayor número de trabajadores informales:</div>
<div class="t n" style="left:1301.5px;top:2220.5px;font-size:132px;line-height:158px;color:#7e1c76;letter-spacing:3.02px;transform:scaleX(0.92);transform-origin:0 0;"><span>2</span><span>3</span><span style="margin-left:-0.03em;margin-right:-0.03em">&nbsp;</span><span>%</span></div>
<div class="t b" style="left:1349.2px;top:2362.0px;width:178px;font-size:44px;line-height:53px;color:#3c3b3b;">están en</div>
<div class="t b" style="left:1323.6px;top:2406.9px;width:229px;font-size:44px;line-height:53px;color:#3c3b3b;">agricultura,</div>
<div class="t b" style="left:1267.3px;top:2451.8px;width:341px;font-size:44px;line-height:53px;color:#3c3b3b;">ganadería, caza,</div>
<div class="t b" style="left:1239.0px;top:2496.7px;width:398px;font-size:44px;line-height:53px;color:#3c3b3b;">silvicultura y pesca.</div>
<div class="t b" style="left:1245.7px;top:2541.6px;width:385px;font-size:44px;line-height:53px;color:#3c3b3b;">En este sector: por</div>
<div class="t b" style="left:1245.7px;top:2586.5px;width:385px;font-size:44px;line-height:53px;color:#3c3b3b;">1 trabajador formal</div>
<div class="t b" style="left:1250.8px;top:2631.4px;width:374px;font-size:44px;line-height:53px;color:#3c3b3b;">hay 7,8 informales</div>
<div class="t n" style="left:1928.3px;top:2220.3px;font-size:132px;line-height:158px;color:#7e1c76;letter-spacing:-3.00px;transform:scaleX(0.856728342856357);transform-origin:0 0;"><span>2</span><span style="margin-left:-0.03em;margin-right:-0.03em">1</span><span style="margin-left:-0.02em;margin-right:-0.02em">,</span><span>7</span><span style="margin-left:-0.03em;margin-right:-0.03em">&nbsp;</span><span>%</span></div>
<div class="t b" style="left:1900.8px;top:2362.0px;width:374px;font-size:44px;line-height:53px;color:#3c3b3b;">están en comercio</div>
<div class="t b" style="left:1942.1px;top:2406.9px;width:291px;font-size:44px;line-height:53px;color:#3c3b3b;">al por mayor y</div>
<div class="t b" style="left:1940.9px;top:2451.8px;width:294px;font-size:44px;line-height:53px;color:#3c3b3b;">al por menor y</div>
<div class="t b" style="left:1923.1px;top:2496.7px;width:329px;font-size:44px;line-height:53px;color:#3c3b3b;">en la reparación</div>
<div class="t b" style="left:1958.6px;top:2541.6px;width:258px;font-size:44px;line-height:53px;color:#3c3b3b;">de vehículos</div>
<div class="t b" style="left:1942.4px;top:2586.5px;width:291px;font-size:44px;line-height:53px;color:#3c3b3b;">automotores y</div>
<div class="t b" style="left:1959.8px;top:2631.4px;width:256px;font-size:44px;line-height:53px;color:#3c3b3b;">motocicletas</div>
<div class="t n" style="left:2572.3px;top:2221.3px;font-size:132px;line-height:158px;color:#7e1c76;letter-spacing:-2.05px;transform:scaleX(0.92);transform-origin:0 0;"><span>9</span><span style="margin-left:-0.02em;margin-right:-0.02em">,</span><span>7</span><span style="margin-left:-0.03em;margin-right:-0.03em">&nbsp;</span><span>%</span></div>
<div class="t b" style="left:2519.2px;top:2362.5px;width:395px;font-size:44px;line-height:53px;color:#3c3b3b;">están alojamiento y</div>
<div class="t b" style="left:2515.6px;top:2406.8px;width:402px;font-size:44px;line-height:53px;color:#3c3b3b;">servicios de comida</div>
</body></html>
